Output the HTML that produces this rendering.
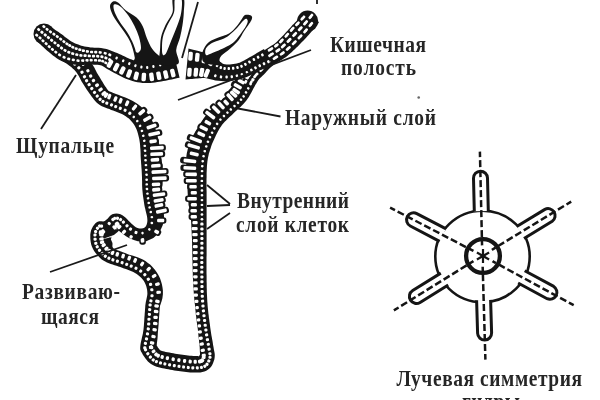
<!DOCTYPE html>
<html><head><meta charset="utf-8">
<style>
html,body{margin:0;padding:0;background:#fff;width:600px;height:400px;overflow:hidden}
svg{display:block;filter:blur(0.65px)}
text{font-family:"Liberation Serif",serif;font-weight:bold;fill:#262626}
</style></head><body>
<svg width="600" height="400" viewBox="0 0 600 400">
<path d="M319,22.4 L317.7,23.9 L316.4,25.5 L315.2,27.1 L313.9,28.6 L312.7,30.2 L311.4,31.7 L310.1,33.2 L308.8,34.8 L307.4,36.3 L306.1,37.8 L304.7,39.2 L303.3,40.7 L301.9,42.1 L300.5,43.6 L299.1,45 L297.7,46.4 L296.2,47.8 L294.8,49.2 L293.3,50.6 L291.9,52 L290.4,53.3 L288.9,54.6 L287.3,55.9 L285.7,57.2 L284,58.3 L282.3,59.4 L280.6,60.5 L278.9,61.5 L277.2,62.5 L275.5,63.6 L273.9,64.7 L272.3,65.9 L270.8,67.2 L269.4,68.6 L268,70 L266.6,71.4 L265.3,72.9 L263.9,74.4 L262.5,75.8 L261,77.2 L259.6,78.5 L258.4,80 L257.3,81.7 L256.3,83.4 L255.3,85.1 L254.3,86.9 L253.4,88.6 L252.4,90.4 L251.5,92.2 L250.5,93.9 L249.5,95.7 L248.5,97.4 L247.4,99.1 L246.2,100.8 L244.9,102.3 L243.6,103.8 L242.1,105.3 L240.7,106.7 L239.2,108 L237.7,109.4 L236.2,110.7 L234.8,112.1 L233.3,113.5 L231.9,114.9 L230.4,116.3 L229,117.6 L227.5,119 L226.1,120.4 L224.7,121.8 L223.4,123.3 L222.1,124.8 L221,126.4 L219.9,128.1 L218.9,129.8 L217.9,131.5 L217,133.3 L216.1,135.1 L215.2,136.9 L214.4,138.7 L213.6,140.5 L212.8,142.3 L212,144.1 L211.3,146 L210.7,147.9 L210.1,149.8 L209.5,151.7 L208.9,153.6 L208.5,155.5 L208,157.5 L207.7,159.4 L207.4,161.4 L207.2,163.4 L207,165.3 L206.9,167.3 L206.8,169.3 L206.7,171.3 L206.6,173.3 L206.6,175.3 L206.6,177.3 L206.5,179.3 L206.5,181.3 L206.5,183.3 L206.5,185.3 L206.5,187.3 L206.5,189.3 L206.6,191.3 L206.6,193.3 L206.6,195.3 L206.6,197.3 L206.6,199.3 L206.6,201.3 L206.6,203.3 L206.6,205.3 L206.6,207.4 L206.6,209.4 L206.6,211.4 L206.6,213.4 L206.6,215.4 L206.6,217.4 L206.6,219.4 L206.6,221.4 L206.6,223.4 L206.6,225.4 L206.6,227.4 L206.6,229.4 L206.6,231.4 L206.6,233.4 L206.6,235.4 L206.6,237.4 L206.6,239.4 L206.6,241.4 L206.6,243.4 L206.6,245.4 L206.6,247.4 L206.6,249.4 L206.6,251.4 L206.6,253.4 L206.6,255.4 L206.5,257.4 L206.5,259.4 L206.5,261.4 L206.5,263.5 L206.5,265.5 L206.5,267.5 L206.5,269.5 L206.5,271.5 L206.5,273.5 L206.6,275.5 L206.6,277.5 L206.6,279.5 L206.6,281.5 L206.7,283.5 L206.7,285.5 L206.7,287.5 L206.8,289.5 L206.8,291.5 L206.9,293.5 L207,295.5 L207.1,297.5 L207.2,299.5 L207.3,301.5 L207.5,303.5 L207.6,305.4 L207.8,307.4 L208,309.4 L208.2,311.4 L208.4,313.4 L208.7,315.4 L208.9,317.4 L209.2,319.4 L209.4,321.3 L209.7,323.3 L210,325.3 L210.2,327.3 L210.5,329.3 L210.8,331.3 L211.1,333.2 L211.4,335.2 L211.8,337.2 L212.1,339.1 L212.5,341.1 L212.8,343.1 L213.1,345.1 L213.5,347 L213.8,349 L214.2,351 L214.6,353 L214.8,355 L214.7,357.1 L214.4,359.2 L213.8,361.1 L213.1,363.1 L212.2,364.9 L211.1,366.7 L209.7,368.3 L208.1,369.6 L206.3,370.7 L204.4,371.5 L202.4,372 L200.4,372.4 L198.3,372.5 L196.3,372.6 L194.3,372.6 L192.3,372.5 L190.2,372.4 L188.2,372.2 L186.2,372 L184.2,371.8 L182.2,371.5 L180.3,371.3 L178.3,371 L176.3,370.7 L174.3,370.4 L172.3,370 L170.3,369.7 L168.4,369.3 L166.4,369 L164.4,368.6 L162.5,368.2 L160.5,367.8 L158.5,367.3 L156.6,366.7 L154.7,366 L152.8,365.1 L151,364.1 L149.4,362.8 L147.9,361.4 L146.5,359.8 L145.3,358.2 L144.1,356.6 L143,354.9 L142,353.1 L141,351.4 L140.2,349.3 L140.2,347.2 L140.4,345.2 L140.7,343.2 L141.1,341.2 L141.6,339.2 L142,337.3 L142.5,335.3 L142.9,333.4 L143.2,331.4 L143.5,329.5 L143.7,327.5 L143.9,325.5 L144,323.5 L144.2,321.5 L144.3,319.5 L144.4,317.5 L144.6,315.5 L144.7,313.5 L144.9,311.5 L145,309.5 L145.2,307.5 L145.3,305.5 L145.6,303.5 L145.9,301.5 L146.4,299.5 L146.8,297.6 L147.2,295.6 L147.4,293.7 L147.3,291.8 L147.1,289.8 L146.7,287.9 L146.2,286 L145.5,284.2 L144.7,282.4 L143.7,280.8 L142.5,279.2 L141.2,277.8 L139.8,276.4 L138.3,275.2 L136.7,274 L135,273 L133.3,272.1 L131.5,271.3 L129.7,270.5 L127.8,269.8 L125.9,269.1 L124,268.4 L122.2,267.7 L120.3,267.1 L118.4,266.4 L116.5,265.8 L114.6,265.2 L112.7,264.6 L110.8,264 L108.9,263.3 L107,262.5 L105.2,261.6 L103.4,260.5 L101.7,259.4 L100.1,258.1 L98.7,256.6 L97.3,255.1 L96,253.5 L94.8,251.9 L93.7,250.2 L92.8,248.4 L91.9,246.5 L91.2,244.5 L90.8,242.5 L90.5,240.5 L90.3,238.5 L90.3,236.4 L90.3,234.4 L90.6,232.4 L91.1,230.3 L91.9,228.4 L92.9,226.6 L94,224.9 L95.4,223.3 L97.1,222 L99.2,221.2 L101.4,221.3 L103.2,221.5 L104.8,221 L106.3,219.8 L107.8,218.4 L109,217 L110.4,215.4 L112.3,214.2 L114.3,213.7 L116.4,213.5 L118.5,213.7 L120.5,214.3 L122.4,215.2 L124.1,216.4 L125.7,217.7 L127.2,219.2 L128.5,220.7 L129.9,222.1 L131.3,223.4 L132.8,224.8 L134.2,226.1 L135.8,227.3 L137.5,228 L139.3,228.4 L141.2,228.5 L143.1,228.2 L144.7,227.5 L145.9,226.2 L146.7,224.5 L147.2,222.6 L147.4,220.7 L147.3,218.8 L147.1,216.9 L146.7,215 L146.2,213 L145.7,211.1 L145.3,209.1 L144.8,207.2 L144.4,205.2 L144.1,203.2 L143.8,201.2 L143.5,199.2 L143.2,197.2 L142.9,195.2 L142.7,193.2 L142.5,191.2 L142.3,189.2 L142.2,187.2 L142.1,185.2 L142.1,183.2 L142.1,181.2 L142,179.2 L142,177.2 L141.9,175.2 L141.8,173.2 L141.7,171.2 L141.6,169.2 L141.4,167.2 L141.3,165.2 L141.1,163.2 L141,161.2 L140.8,159.2 L140.7,157.2 L140.6,155.2 L140.6,153.2 L140.5,151.2 L140.4,149.2 L140.2,147.2 L140.1,145.2 L139.9,143.2 L139.6,141.3 L139.3,139.3 L138.9,137.4 L138.4,135.4 L137.9,133.5 L137.3,131.6 L136.7,129.8 L135.9,128 L135,126.2 L134,124.5 L132.9,122.9 L131.6,121.4 L130.3,120 L128.9,118.6 L127.3,117.4 L125.7,116.2 L124.1,115.2 L122.4,114.2 L120.6,113.4 L118.7,112.7 L116.9,112 L115,111.3 L113.1,110.6 L111.2,109.9 L109.4,109.1 L107.5,108.4 L105.7,107.7 L103.8,107 L101.9,106.2 L100.1,105.2 L98.4,104 L96.8,102.7 L95.4,101.2 L94.1,99.7 L92.8,98.1 L91.6,96.5 L90.4,94.8 L89.3,93.2 L88.1,91.5 L87,89.9 L85.9,88.2 L84.8,86.5 L83.7,84.8 L82.6,83.1 L81.6,81.4 L80.6,79.6 L79.7,77.8 L78.8,76 L77.8,74.4 L76.7,72.7 L75.5,71.2 L74.2,69.8 L72.7,68.4 L71.2,67.1 L69.7,65.9 L68.1,64.7 L66.4,63.6 L64.7,62.5 L63.1,61.5 L61.4,60.4 L59.7,59.3 L69.3,44.6 L70.8,45.5 L72.5,46.6 L74.3,47.8 L76.2,49 L78.1,50.3 L80.5,52 L82.4,53.5 L84.4,55.2 L86.5,57.2 L88.9,59.9 L90.8,62.2 L92.6,64.8 L94.3,67.6 L95.4,69.8 L96.3,71.5 L97,72.9 L97.7,74.1 L98.4,75.2 L99.4,76.8 L100.4,78.5 L101.4,80.2 L102.4,81.8 L103.4,83.5 L104.3,84.9 L105.3,86.4 L106.1,87.6 L107,89 L108,90.2 L108.4,90.8 L108.7,91 L109,91.2 L108.8,91.1 L109.7,91.5 L111.2,92.1 L113.4,92.9 L116,93.9 L117.5,94.5 L118.9,95.1 L120.5,95.7 L122.5,96.4 L124.7,97.2 L127.1,98.2 L129.8,99.4 L132.8,101 L135.3,102.5 L137.6,104 L139.9,105.7 L142.5,108 L144.6,110.1 L146.7,112.4 L148.6,114.8 L150.6,117.9 L152.1,120.6 L153.3,123.3 L154.4,125.9 L155.4,128.5 L156.2,131 L156.9,133.5 L157.5,135.8 L158.1,138.6 L158.7,141 L159.1,143.6 L159.5,145.8 L159.8,148.1 L160.2,150.2 L160.4,152.3 L160.7,154.3 L161,156.2 L161.3,157.9 L161.6,159.7 L161.9,161.7 L162.2,163.7 L162.4,165.7 L162.7,167.8 L163,169.9 L163.2,172 L163.5,174.2 L163.3,176.6 L163.1,178.8 L162.8,180.9 L162.6,182.8 L162.4,184.6 L162.2,186.4 L162,187.7 L161.9,189.4 L162,191.1 L162.1,192.9 L162.2,194.7 L162.3,196.5 L162.4,198.3 L162.6,200.2 L162.7,201.9 L162.7,203.2 L162.8,204.9 L163,206.8 L163.2,208.8 L163.5,211.1 L163.9,214.1 L164,217.3 L163.7,221.7 L162.6,225.6 L160.8,229.5 L157.8,234 L153.4,237.9 L146.2,241.2 L142,241.6 L137.8,241.2 L133.8,240.1 L129,238.1 L126,236.2 L123.7,234.4 L122.1,233.2 L120.4,231.9 L118.3,230.2 L116.7,228.7 L115.8,228.1 L115.6,228.3 L115.1,228.3 L114.6,228.4 L115.1,228.8 L116.6,229.3 L117.3,229.6 L118.4,229.6 L121.9,227.3 L121.9,227.4 L119,230.6 L117.6,231.9 L113.9,234.9 L103.9,238.4 L98.8,238.7 L101,239.4 L107,238.3 L108.8,237.7 L110.1,237.3 L110.6,237.4 L110.7,237.8 L111.2,237.3 L111.7,236 L111.8,235.9 L111.6,236.5 L111.4,237.2 L111.3,238.3 L111.2,238.6 L111,238.6 L111,239.1 L110.9,239.3 L111,239.8 L111.5,240.8 L111.8,241.5 L112.2,242.3 L112.5,243.5 L112.5,244.6 L112.4,245.5 L112.4,246.4 L112.8,247.4 L113.6,248.4 L114.5,248.9 L115.8,249.5 L117.4,250.2 L119.1,250.8 L121,251.5 L122.9,252.3 L125,253.1 L127.3,254 L129.2,254.7 L131.1,255.3 L133.1,255.8 L135.2,256.5 L137.5,257.3 L139.9,258.2 L142.8,259.6 L145.4,261.1 L147.9,262.9 L150.1,264.6 L152.5,266.9 L154.7,269.5 L156.5,271.9 L158.4,275 L160,278.3 L161.1,281.5 L161.9,284.3 L162.5,287.4 L162.9,290.5 L162.9,294.3 L162.4,298.3 L161.6,301.2 L161,303 L160.5,304.4 L160.1,305.6 L159.9,307 L159.7,308.8 L159.6,310.6 L159.4,312.5 L159.3,314.5 L159.1,316.5 L159,318.5 L158.9,320.5 L158.7,322.6 L158.6,324.6 L158.4,326.7 L158.2,329 L158,331.1 L157.8,333.7 L157.7,336 L157.5,338.5 L157.2,340.9 L156.9,343 L156.8,344.7 L156.8,346.1 L156.9,346.8 L156.7,348.9 L156.5,346.2 L155.6,343.6 L156.3,344.7 L157.1,346.1 L157.9,347.4 L158.7,348.4 L159.3,349.3 L159.9,349.9 L160.2,350.2 L160.1,350.2 L160.2,350.3 L160.7,350.5 L162,351 L163,351.3 L164.2,351.6 L165.7,351.9 L167.5,352.3 L169.4,352.6 L171.3,353 L173.3,353.3 L175.2,353.7 L177,354 L178.8,354.3 L180.7,354.6 L182.6,354.8 L184.4,355.1 L186.3,355.3 L188,355.5 L189.8,355.7 L191.5,355.8 L193.3,355.9 L194.5,356 L195.9,356 L197.3,356 L198.3,355.9 L199.1,355.8 L198.9,355.9 L199.1,355.8 L198.6,356 L197.8,357 L198,356.9 L198,357.2 L198.4,356.6 L198.7,356.3 L199.1,355.5 L199.3,355.8 L199.6,355.4 L199.9,355.1 L200,353.6 L199.9,351.9 L199.8,349.7 L199.7,347.2 L199.5,345.3 L199.3,343.5 L199.1,341.5 L198.9,339.5 L198.6,337.4 L198.4,335.2 L198.2,333.1 L198,331 L197.8,329 L197.5,327 L197.2,325 L196.9,323 L196.7,321 L196.4,318.9 L196.2,316.9 L195.9,314.9 L195.7,312.7 L195.5,310.7 L195.3,308.6 L195.1,306.5 L194.9,304.4 L194.6,302.3 L194.4,300.3 L194.2,298.1 L194,296.1 L193.9,294 L193.7,291.9 L193.6,289.8 L193.4,287.8 L193.3,285.7 L193.2,283.7 L193.1,281.7 L193,279.6 L192.9,277.6 L192.8,275.5 L192.8,273.5 L192.7,271.5 L192.7,269.5 L192.6,267.5 L192.6,265.5 L192.5,263.4 L192.5,261.4 L192.4,259.4 L192.4,257.4 L192.3,255.4 L192.3,253.4 L192.3,251.4 L192.2,249.4 L192.2,247.4 L192.1,245.4 L192.1,243.4 L192,241.4 L192,239.4 L191.9,237.4 L191.8,235.4 L191.7,233.4 L191.6,231.4 L191.5,229.4 L191.4,227.4 L191.3,225.4 L191.2,223.4 L191.1,221.4 L190.9,219.4 L190.6,217.4 L190.3,215.4 L190,213.4 L189.7,211.4 L189.4,209.4 L189.1,207.4 L188.8,205.3 L188.5,203.3 L188.2,201.3 L188,199.4 L187.9,197.4 L187.8,195.4 L187.7,193.4 L187.6,191.4 L187.5,189.4 L187.4,187.4 L187.3,185.4 L187.3,183.3 L187.2,181.3 L187.1,179.2 L187.1,177 L187,174.9 L186.8,172.8 L186.6,170.6 L186.4,168.4 L186.3,166.1 L186.2,163.8 L186.1,161.1 L186.2,158.6 L186.4,156.1 L186.8,153.3 L187.4,150.8 L188,148.1 L188.8,145.5 L189.5,143.3 L190.3,141 L191.3,138.8 L192.5,136.5 L193.7,134.4 L195,132.2 L196.2,130.2 L197.6,128.1 L198.7,126.4 L199.7,124.6 L200.9,122.5 L202.3,120.4 L203.9,117.9 L205.6,115.7 L207.4,113.4 L209.4,111.2 L211.3,109.2 L213.2,107.4 L215,105.9 L216.6,104.5 L218.2,103.2 L219.7,101.9 L221,100.8 L222.4,99.5 L224.3,97.8 L226,96.3 L227.4,94.9 L228.7,93.8 L229.7,92.8 L230.6,92 L231.6,90.8 L232.2,90 L232.7,89.4 L233.5,88.1 L234.3,86.9 L235.2,85.3 L236.1,83.7 L236.9,82.1 L237.9,80.3 L238.8,78.5 L239.9,76.6 L241,74.6 L242.4,72.2 L244,69.9 L246.5,66.7 L249.7,63.7 L250,63.4 L251.1,62.4 L252.4,61.1 L253.9,59.6 L255.6,57.9 L257.4,56.2 L259.3,54.4 L261.5,52.7 L263.9,50.8 L266.2,49.1 L268.3,47.8 L270.1,46.6 L271.7,45.6 L273.1,44.7 L274.2,43.9 L275.5,42.9 L276.3,42.2 L277.4,41.2 L278.5,40.1 L279.8,38.8 L281.1,37.5 L282.3,36.3 L283.6,34.9 L284.9,33.5 L286.2,32.1 L287.5,30.7 L288.7,29.3 L290,27.9 L291.3,26.4 L292.4,25.1 L293.7,23.9 L295,22.6 L296.1,21.4 L297.4,20 L298.7,18.6 L300,17.3 L301.3,15.8 L302.6,14.4 L303.9,12.8 L305.4,11.2Z" fill="#151515"/>
<circle cx="307.6" cy="21.2" r="10.6" fill="#151515"/>
<rect x="-3.3" y="-6.5" width="6.6" height="13" rx="2.8" fill="#151515" transform="translate(241.2,81.6) rotate(118.1)"/>
<rect x="-3.3" y="-7.3" width="6.6" height="14.5" rx="2.8" fill="#151515" transform="translate(237.8,86.3) rotate(119.3)"/>
<rect x="-3.3" y="-6.3" width="6.6" height="12.5" rx="2.8" fill="#151515" transform="translate(236.1,91.1) rotate(123.5)"/>
<rect x="-3.3" y="-6.4" width="6.6" height="12.7" rx="2.8" fill="#151515" transform="translate(233.6,94.1) rotate(132.5)"/>
<rect x="-3.3" y="-6.6" width="6.6" height="13.2" rx="2.8" fill="#151515" transform="translate(230.1,97.2) rotate(138.1)"/>
<rect x="-3.3" y="-5.2" width="6.6" height="10.4" rx="2.8" fill="#151515" transform="translate(226.2,102.6) rotate(135.6)"/>
<rect x="-3.3" y="-6.5" width="6.6" height="13" rx="2.8" fill="#151515" transform="translate(221.1,105.6) rotate(136.9)"/>
<rect x="-3.3" y="-7.1" width="6.6" height="14.2" rx="2.8" fill="#151515" transform="translate(216.1,109.6) rotate(135.1)"/>
<rect x="-3.3" y="-7.9" width="6.6" height="15.7" rx="2.8" fill="#151515" transform="translate(210.2,115) rotate(127.6)"/>
<rect x="-3.3" y="-5.6" width="6.6" height="11.1" rx="2.8" fill="#151515" transform="translate(207.8,122.7) rotate(120.2)"/>
<rect x="-3.3" y="-6.5" width="6.6" height="13" rx="2.8" fill="#151515" transform="translate(203.7,128.3) rotate(116.4)"/>
<rect x="-3.3" y="-6.1" width="6.6" height="12.3" rx="2.8" fill="#151515" transform="translate(201.3,134.3) rotate(114.4)"/>
<rect x="-3.3" y="-9.2" width="6.6" height="18.4" rx="2.8" fill="#151515" transform="translate(195.8,139.7) rotate(110.3)"/>
<rect x="-3.3" y="-9" width="6.6" height="18" rx="2.8" fill="#151515" transform="translate(193.7,146.4) rotate(106.6)"/>
<rect x="-3.3" y="-6.7" width="6.6" height="13.3" rx="2.8" fill="#151515" transform="translate(194.2,154) rotate(101.9)"/>
<rect x="-3.3" y="-9.9" width="6.6" height="19.7" rx="2.8" fill="#151515" transform="translate(189.9,160.9) rotate(96.2)"/>
<rect x="-3.3" y="-9.4" width="6.6" height="18.8" rx="2.8" fill="#151515" transform="translate(189.8,168) rotate(92.5)"/>
<rect x="-3.3" y="-7.9" width="6.6" height="15.8" rx="2.8" fill="#151515" transform="translate(191.1,174.3) rotate(91.5)"/>
<rect x="-3.3" y="-7.6" width="6.6" height="15.2" rx="2.8" fill="#151515" transform="translate(191.3,180.7) rotate(90.1)"/>
<rect x="-3.3" y="-5.8" width="6.6" height="11.7" rx="2.8" fill="#151515" transform="translate(193.1,186.7) rotate(89.8)"/>
<rect x="-3.3" y="-5.2" width="6.6" height="10.4" rx="2.8" fill="#151515" transform="translate(193.8,192.8) rotate(89.6)"/>
<rect x="-3.3" y="-6.9" width="6.6" height="13.9" rx="2.8" fill="#151515" transform="translate(192.1,198.7) rotate(89.9)"/>
<rect x="-3.3" y="-5.1" width="6.6" height="10.2" rx="2.8" fill="#151515" transform="translate(193.9,204.7) rotate(90)"/>
<rect x="-3.3" y="-5.3" width="6.6" height="10.6" rx="2.8" fill="#151515" transform="translate(193.7,210.7) rotate(90)"/>
<rect x="-3.3" y="-5.2" width="6.6" height="10.4" rx="2.8" fill="#151515" transform="translate(193.8,216.7) rotate(90)"/>
<rect x="-3.3" y="-4.4" width="6.6" height="8.7" rx="2.8" fill="#151515" transform="translate(142.5,240.4) rotate(-3.5)"/>
<rect x="-3.3" y="-4.6" width="6.6" height="9.1" rx="2.8" fill="#151515" transform="translate(156.7,231.8) rotate(-60.3)"/>
<rect x="-3.3" y="-5.7" width="6.6" height="11.4" rx="2.8" fill="#151515" transform="translate(160.7,220.5) rotate(-88.9)"/>
<rect x="-3.3" y="-7.6" width="6.6" height="15.2" rx="2.8" fill="#151515" transform="translate(161.4,211.1) rotate(-102.9)"/>
<rect x="-3.3" y="-6.5" width="6.6" height="13" rx="2.8" fill="#151515" transform="translate(158.9,205.4) rotate(-103.2)"/>
<rect x="-3.3" y="-7.1" width="6.6" height="14.3" rx="2.8" fill="#151515" transform="translate(158.6,200.4) rotate(-99.1)"/>
<rect x="-3.3" y="-8.4" width="6.6" height="16.8" rx="2.8" fill="#151515" transform="translate(159,194.6) rotate(-97.7)"/>
<rect x="-3.3" y="-6.1" width="6.6" height="12.3" rx="2.8" fill="#151515" transform="translate(156.1,189.6) rotate(-95)"/>
<rect x="-3.3" y="-6.3" width="6.6" height="12.6" rx="2.8" fill="#151515" transform="translate(156,184.4) rotate(-91.5)"/>
<rect x="-3.3" y="-9.8" width="6.6" height="19.5" rx="2.8" fill="#151515" transform="translate(159.4,178.3) rotate(-91.3)"/>
<rect x="-3.3" y="-9.6" width="6.6" height="19.2" rx="2.8" fill="#151515" transform="translate(159,171.8) rotate(-93.3)"/>
<rect x="-3.3" y="-6.8" width="6.6" height="13.7" rx="2.8" fill="#151515" transform="translate(155.8,165.8) rotate(-94.1)"/>
<rect x="-3.3" y="-6.4" width="6.6" height="12.8" rx="2.8" fill="#151515" transform="translate(154.9,159.8) rotate(-94.1)"/>
<rect x="-3.3" y="-8.5" width="6.6" height="17" rx="2.8" fill="#151515" transform="translate(156.7,154.1) rotate(-92.5)"/>
<rect x="-3.3" y="-9" width="6.6" height="18" rx="2.8" fill="#151515" transform="translate(156.9,147.9) rotate(-93.2)"/>
<rect x="-3.3" y="-5.8" width="6.6" height="11.6" rx="2.8" fill="#151515" transform="translate(153.1,141.3) rotate(-96.9)"/>
<rect x="-3.3" y="-8.2" width="6.6" height="16.4" rx="2.8" fill="#151515" transform="translate(154.2,133.7) rotate(-102.2)"/>
<rect x="-3.3" y="-7.6" width="6.6" height="15.2" rx="2.8" fill="#151515" transform="translate(151.6,126.5) rotate(-108.4)"/>
<rect x="-3.3" y="-6.6" width="6.6" height="13.2" rx="2.8" fill="#151515" transform="translate(147.2,118.8) rotate(-120)"/>
<rect x="-3.3" y="-6.1" width="6.6" height="12.2" rx="2.8" fill="#151515" transform="translate(141.7,112.2) rotate(-131.1)"/>
<rect x="-1.6" y="-3" width="3.2" height="6" rx="1.3" fill="#fff" transform="translate(246.2,76.9) rotate(120.8)"/>
<rect x="-1.8" y="-3.7" width="3.6" height="7.3" rx="1.3" fill="#fff" transform="translate(241.2,81.6) rotate(118.1)"/>
<rect x="-1.8" y="-4.3" width="3.6" height="8.7" rx="1.3" fill="#fff" transform="translate(237.8,86.3) rotate(119.3)"/>
<rect x="-1.8" y="-4.2" width="3.6" height="8.3" rx="1.3" fill="#fff" transform="translate(236.1,91.1) rotate(123.5)"/>
<rect x="-1.8" y="-4.3" width="3.6" height="8.5" rx="1.3" fill="#fff" transform="translate(233.6,94.1) rotate(132.5)"/>
<rect x="-1.8" y="-4.5" width="3.6" height="9" rx="1.3" fill="#fff" transform="translate(230.1,97.2) rotate(138.1)"/>
<rect x="-1.8" y="-3.1" width="3.6" height="6.2" rx="1.3" fill="#fff" transform="translate(226.2,102.6) rotate(135.6)"/>
<rect x="-1.8" y="-4.4" width="3.6" height="8.8" rx="1.3" fill="#fff" transform="translate(221.1,105.6) rotate(136.9)"/>
<rect x="-1.8" y="-5" width="3.6" height="10" rx="1.3" fill="#fff" transform="translate(216.1,109.6) rotate(135.1)"/>
<rect x="-1.8" y="-5.8" width="3.6" height="11.5" rx="1.3" fill="#fff" transform="translate(210.2,115) rotate(127.6)"/>
<rect x="-1.8" y="-3.5" width="3.6" height="6.9" rx="1.3" fill="#fff" transform="translate(207.8,122.7) rotate(120.2)"/>
<rect x="-1.8" y="-4.4" width="3.6" height="8.8" rx="1.3" fill="#fff" transform="translate(203.7,128.3) rotate(116.4)"/>
<rect x="-1.8" y="-4" width="3.6" height="8.1" rx="1.3" fill="#fff" transform="translate(201.3,134.3) rotate(114.4)"/>
<rect x="-1.8" y="-6.4" width="3.6" height="12.8" rx="1.3" fill="#fff" transform="translate(195.8,139.7) rotate(110.3)"/>
<rect x="-1.8" y="-6.4" width="3.6" height="12.8" rx="1.3" fill="#fff" transform="translate(193.7,146.4) rotate(106.6)"/>
<rect x="-1.8" y="-4.6" width="3.6" height="9.1" rx="1.3" fill="#fff" transform="translate(194.2,154) rotate(101.9)"/>
<rect x="-1.8" y="-6.4" width="3.6" height="12.8" rx="1.3" fill="#fff" transform="translate(189.9,160.9) rotate(96.2)"/>
<rect x="-1.8" y="-6.4" width="3.6" height="12.8" rx="1.3" fill="#fff" transform="translate(189.8,168) rotate(92.5)"/>
<rect x="-1.8" y="-5.8" width="3.6" height="11.6" rx="1.3" fill="#fff" transform="translate(191.1,174.3) rotate(91.5)"/>
<rect x="-1.8" y="-5.5" width="3.6" height="11" rx="1.3" fill="#fff" transform="translate(191.3,180.7) rotate(90.1)"/>
<rect x="-1.8" y="-3.7" width="3.6" height="7.5" rx="1.3" fill="#fff" transform="translate(193.1,186.7) rotate(89.8)"/>
<rect x="-1.8" y="-3.1" width="3.6" height="6.2" rx="1.3" fill="#fff" transform="translate(193.8,192.8) rotate(89.6)"/>
<rect x="-1.8" y="-4.8" width="3.6" height="9.7" rx="1.3" fill="#fff" transform="translate(192.1,198.7) rotate(89.9)"/>
<rect x="-1.8" y="-3" width="3.6" height="6" rx="1.3" fill="#fff" transform="translate(193.9,204.7) rotate(90)"/>
<rect x="-1.8" y="-3.2" width="3.6" height="6.4" rx="1.3" fill="#fff" transform="translate(193.7,210.7) rotate(90)"/>
<rect x="-1.8" y="-3.1" width="3.6" height="6.2" rx="1.3" fill="#fff" transform="translate(193.8,216.7) rotate(90)"/>
<rect x="-1.6" y="-2.6" width="3.2" height="5.3" rx="1.3" fill="#fff" transform="translate(195.1,222.7) rotate(90)"/>
<rect x="-1.6" y="-3.1" width="3.2" height="6.1" rx="1.3" fill="#fff" transform="translate(194.6,228.7) rotate(90)"/>
<rect x="-1.6" y="-2.7" width="3.2" height="5.5" rx="1.3" fill="#fff" transform="translate(195,234.7) rotate(90)"/>
<rect x="-1.6" y="-2.4" width="3.2" height="4.9" rx="1.3" fill="#fff" transform="translate(195.3,240.7) rotate(90.1)"/>
<rect x="-1.6" y="-2.4" width="3.2" height="4.8" rx="1.3" fill="#fff" transform="translate(195.3,246.6) rotate(90.2)"/>
<rect x="-1.6" y="-2.4" width="3.2" height="4.8" rx="1.3" fill="#fff" transform="translate(195.3,252.6) rotate(90.2)"/>
<rect x="-1.6" y="-2.4" width="3.2" height="4.8" rx="1.3" fill="#fff" transform="translate(195.3,258.7) rotate(90.2)"/>
<rect x="-1.6" y="-2.4" width="3.2" height="4.7" rx="1.3" fill="#fff" transform="translate(195.3,264.7) rotate(90.1)"/>
<rect x="-1.6" y="-2.3" width="3.2" height="4.7" rx="1.3" fill="#fff" transform="translate(195.3,270.7) rotate(89.8)"/>
<rect x="-1.6" y="-2.3" width="3.2" height="4.6" rx="1.3" fill="#fff" transform="translate(195.4,276.8) rotate(89.5)"/>
<rect x="-1.6" y="-2.3" width="3.2" height="4.6" rx="1.3" fill="#fff" transform="translate(195.4,282.9) rotate(89)"/>
<rect x="-1.6" y="-2.3" width="3.2" height="4.6" rx="1.3" fill="#fff" transform="translate(195.6,288.9) rotate(88.6)"/>
<rect x="-1.6" y="-2.2" width="3.2" height="4.5" rx="1.3" fill="#fff" transform="translate(195.8,295.1) rotate(87.7)"/>
<rect x="-1.6" y="-2.1" width="3.2" height="4.1" rx="1.3" fill="#fff" transform="translate(196.4,301.4) rotate(86.1)"/>
<rect x="-1.6" y="-1.8" width="3.2" height="3.6" rx="1.3" fill="#fff" transform="translate(197.1,307.6) rotate(84.7)"/>
<rect x="-1.6" y="-1.8" width="3.2" height="3.5" rx="1.3" fill="#fff" transform="translate(197.8,313.7) rotate(83.6)"/>
<rect x="-1.6" y="-1.8" width="3.2" height="3.6" rx="1.3" fill="#fff" transform="translate(198.5,319.9) rotate(82.7)"/>
<rect x="-1.6" y="-1.7" width="3.2" height="3.4" rx="1.3" fill="#fff" transform="translate(199.4,325.9) rotate(82.2)"/>
<rect x="-1.6" y="-2" width="3.2" height="4" rx="1.3" fill="#fff" transform="translate(199.9,331.9) rotate(82)"/>
<rect x="-1.6" y="-2" width="3.2" height="4.1" rx="1.3" fill="#fff" transform="translate(200.8,338.2) rotate(80.1)"/>
<rect x="-1.6" y="-2.2" width="3.2" height="4.4" rx="1.3" fill="#fff" transform="translate(201.7,344.1) rotate(80.2)"/>
<rect x="-1.6" y="-2.1" width="3.2" height="4.3" rx="1.3" fill="#fff" transform="translate(202.8,350.3) rotate(78.6)"/>
<rect x="-1.6" y="-2" width="3.2" height="4.1" rx="1.3" fill="#fff" transform="translate(203.8,355.3) rotate(83.7)"/>
<rect x="-1.6" y="-2" width="3.2" height="3.9" rx="1.3" fill="#fff" transform="translate(203.6,357.3) rotate(105.7)"/>
<rect x="-1.6" y="-2" width="3.2" height="3.9" rx="1.3" fill="#fff" transform="translate(202.3,360.2) rotate(121)"/>
<rect x="-1.6" y="-2" width="3.2" height="3.9" rx="1.3" fill="#fff" transform="translate(201.5,361) rotate(148)"/>
<rect x="-1.6" y="-2" width="3.2" height="3.9" rx="1.3" fill="#fff" transform="translate(199.6,361.5) rotate(171)"/>
<rect x="-1.6" y="-2" width="3.2" height="3.9" rx="1.3" fill="#fff" transform="translate(195.2,361.7) rotate(179.6)"/>
<rect x="-1.6" y="-2" width="3.2" height="3.9" rx="1.3" fill="#fff" transform="translate(190.2,361.5) rotate(-174.8)"/>
<rect x="-1.6" y="-2" width="3.2" height="3.9" rx="1.3" fill="#fff" transform="translate(184.6,360.9) rotate(-173)"/>
<rect x="-1.6" y="-2" width="3.2" height="3.9" rx="1.3" fill="#fff" transform="translate(178.9,360.1) rotate(-171.3)"/>
<rect x="-1.6" y="-2" width="3.2" height="3.9" rx="1.3" fill="#fff" transform="translate(173.2,359.2) rotate(-170.1)"/>
<rect x="-1.6" y="-2" width="3.2" height="3.9" rx="1.3" fill="#fff" transform="translate(167.4,358.1) rotate(-169.6)"/>
<rect x="-1.6" y="-2" width="3.2" height="3.9" rx="1.3" fill="#fff" transform="translate(162.2,357) rotate(-165.8)"/>
<rect x="-1.6" y="-2" width="3.2" height="3.9" rx="1.3" fill="#fff" transform="translate(158.2,355.7) rotate(-156.1)"/>
<rect x="-1.6" y="-2" width="3.2" height="3.9" rx="1.3" fill="#fff" transform="translate(156.1,354.3) rotate(-136.4)"/>
<rect x="-1.6" y="-2" width="3.2" height="3.9" rx="1.3" fill="#fff" transform="translate(153.6,351.3) rotate(-124.7)"/>
<rect x="-1.6" y="-2" width="3.2" height="3.9" rx="1.3" fill="#fff" transform="translate(150.9,346.9) rotate(-120.1)"/>
<rect x="-1.6" y="-2.2" width="3.2" height="4.3" rx="1.3" fill="#fff" transform="translate(151.2,347.6) rotate(-83.2)"/>
<rect x="-1.6" y="-2.2" width="3.2" height="4.4" rx="1.3" fill="#fff" transform="translate(152.1,342.9) rotate(-76.6)"/>
<rect x="-1.6" y="-2.2" width="3.2" height="4.4" rx="1.3" fill="#fff" transform="translate(153.5,336.6) rotate(-78.9)"/>
<rect x="-1.6" y="-2.2" width="3.2" height="4.4" rx="1.3" fill="#fff" transform="translate(154.6,329.7) rotate(-84.2)"/>
<rect x="-1.6" y="-2.2" width="3.2" height="4.5" rx="1.3" fill="#fff" transform="translate(155.2,323.5) rotate(-85.6)"/>
<rect x="-1.6" y="-2.3" width="3.2" height="4.5" rx="1.3" fill="#fff" transform="translate(155.6,317.4) rotate(-86.2)"/>
<rect x="-1.6" y="-2.3" width="3.2" height="4.6" rx="1.3" fill="#fff" transform="translate(156.1,311.5) rotate(-85.9)"/>
<rect x="-1.6" y="-2.3" width="3.2" height="4.6" rx="1.3" fill="#fff" transform="translate(156.6,306) rotate(-83.1)"/>
<rect x="-1.6" y="-2.3" width="3.2" height="4.6" rx="1.3" fill="#fff" transform="translate(157.4,301.4) rotate(-76.1)"/>
<rect x="-1.6" y="-2.3" width="3.2" height="4.6" rx="1.3" fill="#fff" transform="translate(158.6,292.3) rotate(-93.2)"/>
<rect x="-1.6" y="-2.4" width="3.2" height="4.8" rx="1.3" fill="#fff" transform="translate(157.4,284.2) rotate(-105.2)"/>
<rect x="-1.6" y="-2.4" width="3.2" height="4.9" rx="1.3" fill="#fff" transform="translate(154.1,276) rotate(-120.8)"/>
<rect x="-1.6" y="-2.4" width="3.2" height="4.9" rx="1.3" fill="#fff" transform="translate(148.6,269.1) rotate(-135.7)"/>
<rect x="-1.6" y="-2.4" width="3.2" height="4.9" rx="1.3" fill="#fff" transform="translate(142.1,264) rotate(-147.9)"/>
<rect x="-1.6" y="-2.4" width="3.2" height="4.9" rx="1.3" fill="#fff" transform="translate(135.1,260.5) rotate(-157.8)"/>
<rect x="-1.6" y="-2.4" width="3.2" height="4.9" rx="1.3" fill="#fff" transform="translate(129.2,258.2) rotate(-159.6)"/>
<rect x="-1.6" y="-2.4" width="3.2" height="4.8" rx="1.3" fill="#fff" transform="translate(123.1,256.1) rotate(-161.9)"/>
<rect x="-1.6" y="-2.3" width="3.2" height="4.6" rx="1.3" fill="#fff" transform="translate(117.3,254.3) rotate(-162.3)"/>
<rect x="-1.6" y="-2.2" width="3.2" height="4.5" rx="1.3" fill="#fff" transform="translate(112.5,252.8) rotate(-156.9)"/>
<rect x="-1.6" y="-2.2" width="3.2" height="4.4" rx="1.3" fill="#fff" transform="translate(109,251) rotate(-145.8)"/>
<rect x="-1.6" y="-2.2" width="3.2" height="4.4" rx="1.3" fill="#fff" transform="translate(106.4,248.6) rotate(-132.5)"/>
<rect x="-1.6" y="-2.2" width="3.2" height="4.4" rx="1.3" fill="#fff" transform="translate(103.7,245.2) rotate(-123.6)"/>
<rect x="-1.6" y="-2.2" width="3.2" height="4.4" rx="1.3" fill="#fff" transform="translate(102.1,242.2) rotate(-109.1)"/>
<rect x="-1.6" y="-2.2" width="3.2" height="4.4" rx="1.3" fill="#fff" transform="translate(101.5,238.9) rotate(-94.8)"/>
<rect x="-1.6" y="-2.2" width="3.2" height="4.4" rx="1.3" fill="#fff" transform="translate(101.4,234.8) rotate(-84.7)"/>
<rect x="-1.6" y="-2.2" width="3.2" height="4.4" rx="1.3" fill="#fff" transform="translate(102,233) rotate(-62)"/>
<rect x="-1.6" y="-2.2" width="3.2" height="4.4" rx="1.3" fill="#fff" transform="translate(103.2,231.3) rotate(-40.6)"/>
<rect x="-1.6" y="-2.2" width="3.2" height="4.4" rx="1.3" fill="#fff" transform="translate(100.4,232.4) rotate(8.2)"/>
<rect x="-1.6" y="-2.2" width="3.2" height="4.4" rx="1.3" fill="#fff" transform="translate(114.4,227.4) rotate(-43.4)"/>
<rect x="-1.6" y="-2.2" width="3.2" height="4.4" rx="1.3" fill="#fff" transform="translate(117.6,223.8) rotate(-37.4)"/>
<rect x="-1.6" y="-2.2" width="3.2" height="4.4" rx="1.3" fill="#fff" transform="translate(116.3,224.6) rotate(3.6)"/>
<rect x="-1.6" y="-2.5" width="3.2" height="4.9" rx="1.3" fill="#fff" transform="translate(116.9,225.2) rotate(32.1)"/>
<rect x="-1.6" y="-2.3" width="3.2" height="4.5" rx="1.3" fill="#fff" transform="translate(119.3,227.1) rotate(47.8)"/>
<rect x="-1.6" y="-2.3" width="3.2" height="4.6" rx="1.3" fill="#fff" transform="translate(124,231.9) rotate(43.8)"/>
<rect x="-1.6" y="-1.7" width="3.2" height="3.4" rx="1.3" fill="#fff" transform="translate(131.1,236.8) rotate(29.1)"/>
<rect x="-1.8" y="-2.3" width="3.6" height="4.5" rx="1.3" fill="#fff" transform="translate(142.5,240.4) rotate(-3.5)"/>
<rect x="-1.8" y="-2.5" width="3.6" height="4.9" rx="1.3" fill="#fff" transform="translate(156.7,231.8) rotate(-60.3)"/>
<rect x="-1.8" y="-3.6" width="3.6" height="7.2" rx="1.3" fill="#fff" transform="translate(160.7,220.5) rotate(-88.9)"/>
<rect x="-1.8" y="-5.5" width="3.6" height="11" rx="1.3" fill="#fff" transform="translate(161.4,211.1) rotate(-102.9)"/>
<rect x="-1.8" y="-4.4" width="3.6" height="8.8" rx="1.3" fill="#fff" transform="translate(158.9,205.4) rotate(-103.2)"/>
<rect x="-1.8" y="-5" width="3.6" height="10.1" rx="1.3" fill="#fff" transform="translate(158.6,200.4) rotate(-99.1)"/>
<rect x="-1.8" y="-6.3" width="3.6" height="12.6" rx="1.3" fill="#fff" transform="translate(159,194.6) rotate(-97.7)"/>
<rect x="-1.8" y="-4" width="3.6" height="8.1" rx="1.3" fill="#fff" transform="translate(156.1,189.6) rotate(-95)"/>
<rect x="-1.8" y="-4.2" width="3.6" height="8.4" rx="1.3" fill="#fff" transform="translate(156,184.4) rotate(-91.5)"/>
<rect x="-1.8" y="-7.3" width="3.6" height="14.6" rx="1.3" fill="#fff" transform="translate(159.4,178.3) rotate(-91.3)"/>
<rect x="-1.8" y="-7.5" width="3.6" height="15" rx="1.3" fill="#fff" transform="translate(159,171.8) rotate(-93.3)"/>
<rect x="-1.8" y="-4.7" width="3.6" height="9.5" rx="1.3" fill="#fff" transform="translate(155.8,165.8) rotate(-94.1)"/>
<rect x="-1.8" y="-4.3" width="3.6" height="8.6" rx="1.3" fill="#fff" transform="translate(154.9,159.8) rotate(-94.1)"/>
<rect x="-1.8" y="-6.4" width="3.6" height="12.8" rx="1.3" fill="#fff" transform="translate(156.7,154.1) rotate(-92.5)"/>
<rect x="-1.8" y="-6.9" width="3.6" height="13.8" rx="1.3" fill="#fff" transform="translate(156.9,147.9) rotate(-93.2)"/>
<rect x="-1.8" y="-3.7" width="3.6" height="7.4" rx="1.3" fill="#fff" transform="translate(153.1,141.3) rotate(-96.9)"/>
<rect x="-1.8" y="-6" width="3.6" height="11.9" rx="1.3" fill="#fff" transform="translate(154.2,133.7) rotate(-102.2)"/>
<rect x="-1.8" y="-5.2" width="3.6" height="10.3" rx="1.3" fill="#fff" transform="translate(151.6,126.5) rotate(-108.4)"/>
<rect x="-1.8" y="-4.3" width="3.6" height="8.7" rx="1.3" fill="#fff" transform="translate(147.2,118.8) rotate(-120)"/>
<rect x="-1.8" y="-3.8" width="3.6" height="7.6" rx="1.3" fill="#fff" transform="translate(141.7,112.2) rotate(-131.1)"/>
<rect x="-1.6" y="-3.3" width="3.2" height="6.6" rx="1.3" fill="#fff" transform="translate(134.5,107.5) rotate(-142.5)"/>
<rect x="-1.6" y="-3" width="3.2" height="6" rx="1.3" fill="#fff" transform="translate(127.1,103.3) rotate(-155.3)"/>
<rect x="-1.6" y="-2.9" width="3.2" height="5.8" rx="1.3" fill="#fff" transform="translate(120.6,100.8) rotate(-160.3)"/>
<rect x="-1.6" y="-2.8" width="3.2" height="5.6" rx="1.3" fill="#fff" transform="translate(115.4,99) rotate(-157.8)"/>
<rect x="-1.6" y="-2.8" width="3.2" height="5.6" rx="1.3" fill="#fff" transform="translate(109.3,96.6) rotate(-160.5)"/>
<rect x="-1.6" y="-2.8" width="3.2" height="5.6" rx="1.3" fill="#fff" transform="translate(106.1,95.2) rotate(-147.5)"/>
<rect x="-1.6" y="-2.7" width="3.2" height="5.3" rx="1.3" fill="#fff" transform="translate(103.9,93.4) rotate(-131.1)"/>
<rect x="-1.6" y="-2.3" width="3.2" height="4.7" rx="1.3" fill="#fff" transform="translate(100.5,89.6) rotate(-126.3)"/>
<rect x="-1.6" y="-2" width="3.2" height="4" rx="1.3" fill="#fff" transform="translate(97,85.2) rotate(-124.1)"/>
<rect x="-1.6" y="-1.7" width="3.2" height="3.3" rx="1.3" fill="#fff" transform="translate(93.5,80.5) rotate(-123.6)"/>
<rect x="-1.6" y="-1.6" width="3.2" height="3.2" rx="1.3" fill="#fff" transform="translate(90.7,76.1) rotate(-118.8)"/>
<rect x="-1.6" y="-1.6" width="3.2" height="3.2" rx="1.3" fill="#fff" transform="translate(87.9,70.8) rotate(-118.6)"/>
<rect x="-1.6" y="-1.6" width="3.2" height="3.2" rx="1.3" fill="#fff" transform="translate(83.2,64.1) rotate(-131.4)"/>
<rect x="-1.6" y="-1.6" width="3.2" height="3.2" rx="1.3" fill="#fff" transform="translate(77.7,58.9) rotate(-141)"/>
<rect x="-1.6" y="-1.6" width="3.2" height="3.2" rx="1.3" fill="#fff" transform="translate(72.1,54.8) rotate(-146.4)"/>
<rect x="-1.5" y="-1.6" width="3" height="3.2" rx="1.2" fill="#fff" transform="translate(252.9,79.7) rotate(120.8)"/>
<rect x="-1.2" y="-1.4" width="2.4" height="2.7" rx="1.2" fill="#fff" transform="translate(250.5,84.1) rotate(118.5)"/>
<rect x="-1.2" y="-1.4" width="2.4" height="2.7" rx="1.2" fill="#fff" transform="translate(248.2,88.3) rotate(118.4)"/>
<rect x="-1.2" y="-1.4" width="2.4" height="2.7" rx="1.2" fill="#fff" transform="translate(246,92.4) rotate(120)"/>
<rect x="-1.2" y="-1.4" width="2.4" height="2.7" rx="1.2" fill="#fff" transform="translate(243.6,96.3) rotate(123.5)"/>
<rect x="-1.2" y="-1.4" width="2.4" height="2.7" rx="1.2" fill="#fff" transform="translate(241,99.7) rotate(130.9)"/>
<rect x="-1.2" y="-1.4" width="2.4" height="2.7" rx="1.2" fill="#fff" transform="translate(238,102.8) rotate(137.1)"/>
<rect x="-1.2" y="-1.4" width="2.4" height="2.7" rx="1.2" fill="#fff" transform="translate(234.5,106) rotate(138.2)"/>
<rect x="-1.2" y="-1.4" width="2.4" height="2.7" rx="1.2" fill="#fff" transform="translate(230.8,109.4) rotate(135.3)"/>
<rect x="-1.2" y="-1.4" width="2.4" height="2.7" rx="1.2" fill="#fff" transform="translate(227.4,112.6) rotate(136.9)"/>
<rect x="-1.2" y="-1.4" width="2.4" height="2.7" rx="1.2" fill="#fff" transform="translate(223.9,116) rotate(135.8)"/>
<rect x="-1.2" y="-1.4" width="2.4" height="2.7" rx="1.2" fill="#fff" transform="translate(220.4,119.6) rotate(132.2)"/>
<rect x="-1.2" y="-1.4" width="2.4" height="2.7" rx="1.2" fill="#fff" transform="translate(217.1,123.8) rotate(124.9)"/>
<rect x="-1.2" y="-1.4" width="2.4" height="2.7" rx="1.2" fill="#fff" transform="translate(214.3,128.3) rotate(118.5)"/>
<rect x="-1.2" y="-1.4" width="2.4" height="2.7" rx="1.2" fill="#fff" transform="translate(212.1,132.7) rotate(116.4)"/>
<rect x="-1.2" y="-1.4" width="2.4" height="2.7" rx="1.2" fill="#fff" transform="translate(209.9,137.1) rotate(114.9)"/>
<rect x="-1.2" y="-1.4" width="2.4" height="2.7" rx="1.2" fill="#fff" transform="translate(207.9,141.7) rotate(111.9)"/>
<rect x="-1.2" y="-1.4" width="2.4" height="2.7" rx="1.2" fill="#fff" transform="translate(206.2,146.4) rotate(108.7)"/>
<rect x="-1.2" y="-1.4" width="2.4" height="2.7" rx="1.2" fill="#fff" transform="translate(204.7,151.2) rotate(106.1)"/>
<rect x="-1.2" y="-1.4" width="2.4" height="2.7" rx="1.2" fill="#fff" transform="translate(203.5,156.2) rotate(101.1)"/>
<rect x="-1.2" y="-1.4" width="2.4" height="2.7" rx="1.2" fill="#fff" transform="translate(202.7,161.2) rotate(96.8)"/>
<rect x="-1.2" y="-1.4" width="2.4" height="2.7" rx="1.2" fill="#fff" transform="translate(202.2,166.2) rotate(93.8)"/>
<rect x="-1.2" y="-1.4" width="2.4" height="2.7" rx="1.2" fill="#fff" transform="translate(202,171.1) rotate(92)"/>
<rect x="-1.2" y="-1.4" width="2.4" height="2.7" rx="1.2" fill="#fff" transform="translate(201.9,176) rotate(91.2)"/>
<rect x="-1.2" y="-1.4" width="2.4" height="2.7" rx="1.2" fill="#fff" transform="translate(201.8,180.9) rotate(90.1)"/>
<rect x="-1.2" y="-1.4" width="2.4" height="2.7" rx="1.2" fill="#fff" transform="translate(201.8,185.7) rotate(89.8)"/>
<rect x="-1.2" y="-1.4" width="2.4" height="2.7" rx="1.2" fill="#fff" transform="translate(201.9,190.5) rotate(89.7)"/>
<rect x="-1.2" y="-1.4" width="2.4" height="2.7" rx="1.2" fill="#fff" transform="translate(201.9,195.3) rotate(89.7)"/>
<rect x="-1.2" y="-1.4" width="2.4" height="2.7" rx="1.2" fill="#fff" transform="translate(201.9,200.1) rotate(90)"/>
<rect x="-1.2" y="-1.4" width="2.4" height="2.7" rx="1.2" fill="#fff" transform="translate(201.9,204.9) rotate(90)"/>
<rect x="-1.2" y="-1.4" width="2.4" height="2.7" rx="1.2" fill="#fff" transform="translate(201.9,209.7) rotate(90)"/>
<rect x="-1.2" y="-1.4" width="2.4" height="2.7" rx="1.2" fill="#fff" transform="translate(201.9,214.5) rotate(90)"/>
<rect x="-1.2" y="-1.4" width="2.4" height="2.7" rx="1.2" fill="#fff" transform="translate(201.9,219.3) rotate(90)"/>
<rect x="-1.5" y="-1.6" width="3" height="3.2" rx="1.2" fill="#fff" transform="translate(201.9,224.1) rotate(90)"/>
<rect x="-1.5" y="-1.6" width="3" height="3.2" rx="1.2" fill="#fff" transform="translate(201.9,228.9) rotate(90)"/>
<rect x="-1.5" y="-1.6" width="3" height="3.2" rx="1.2" fill="#fff" transform="translate(201.9,233.7) rotate(90)"/>
<rect x="-1.5" y="-1.6" width="3" height="3.2" rx="1.2" fill="#fff" transform="translate(201.9,238.5) rotate(90)"/>
<rect x="-1.5" y="-1.6" width="3" height="3.2" rx="1.2" fill="#fff" transform="translate(201.9,243.3) rotate(90.1)"/>
<rect x="-1.5" y="-1.6" width="3" height="3.2" rx="1.2" fill="#fff" transform="translate(201.9,248.1) rotate(90.2)"/>
<rect x="-1.5" y="-1.6" width="3" height="3.2" rx="1.2" fill="#fff" transform="translate(201.9,252.9) rotate(90.2)"/>
<rect x="-1.5" y="-1.6" width="3" height="3.2" rx="1.2" fill="#fff" transform="translate(201.8,257.7) rotate(90.2)"/>
<rect x="-1.5" y="-1.6" width="3" height="3.2" rx="1.2" fill="#fff" transform="translate(201.8,262.5) rotate(90.1)"/>
<rect x="-1.5" y="-1.6" width="3" height="3.2" rx="1.2" fill="#fff" transform="translate(201.8,267.3) rotate(90)"/>
<rect x="-1.5" y="-1.6" width="3" height="3.2" rx="1.2" fill="#fff" transform="translate(201.8,272.1) rotate(89.8)"/>
<rect x="-1.5" y="-1.6" width="3" height="3.2" rx="1.2" fill="#fff" transform="translate(201.9,276.9) rotate(89.5)"/>
<rect x="-1.5" y="-1.6" width="3" height="3.2" rx="1.2" fill="#fff" transform="translate(201.9,281.7) rotate(89.1)"/>
<rect x="-1.5" y="-1.6" width="3" height="3.2" rx="1.2" fill="#fff" transform="translate(202,286.6) rotate(88.8)"/>
<rect x="-1.5" y="-1.6" width="3" height="3.2" rx="1.2" fill="#fff" transform="translate(202.1,291.4) rotate(88.2)"/>
<rect x="-1.5" y="-1.6" width="3" height="3.2" rx="1.2" fill="#fff" transform="translate(202.3,296.3) rotate(87.4)"/>
<rect x="-1.5" y="-1.6" width="3" height="3.2" rx="1.2" fill="#fff" transform="translate(202.6,301.1) rotate(86.1)"/>
<rect x="-1.5" y="-1.6" width="3" height="3.2" rx="1.2" fill="#fff" transform="translate(203,306) rotate(85.2)"/>
<rect x="-1.5" y="-1.6" width="3" height="3.2" rx="1.2" fill="#fff" transform="translate(203.4,310.9) rotate(84)"/>
<rect x="-1.5" y="-1.6" width="3" height="3.2" rx="1.2" fill="#fff" transform="translate(204,315.7) rotate(83.1)"/>
<rect x="-1.5" y="-1.6" width="3" height="3.2" rx="1.2" fill="#fff" transform="translate(204.6,320.5) rotate(82.6)"/>
<rect x="-1.5" y="-1.6" width="3" height="3.2" rx="1.2" fill="#fff" transform="translate(205.2,325.3) rotate(82.2)"/>
<rect x="-1.5" y="-1.6" width="3" height="3.2" rx="1.2" fill="#fff" transform="translate(205.9,330) rotate(82.2)"/>
<rect x="-1.5" y="-1.6" width="3" height="3.2" rx="1.2" fill="#fff" transform="translate(206.6,334.9) rotate(80.7)"/>
<rect x="-1.5" y="-1.6" width="3" height="3.2" rx="1.2" fill="#fff" transform="translate(207.4,339.7) rotate(79.6)"/>
<rect x="-1.5" y="-1.6" width="3" height="3.2" rx="1.2" fill="#fff" transform="translate(208.3,344.3) rotate(81)"/>
<rect x="-1.5" y="-1.6" width="3" height="3.2" rx="1.2" fill="#fff" transform="translate(209.1,349.2) rotate(78.6)"/>
<rect x="-1.5" y="-1.6" width="3" height="3.2" rx="1.2" fill="#fff" transform="translate(209.9,353.7) rotate(81.9)"/>
<rect x="-1.5" y="-1.6" width="3" height="3.2" rx="1.2" fill="#fff" transform="translate(210,357.3) rotate(98.6)"/>
<rect x="-1.5" y="-1.6" width="3" height="3.2" rx="1.2" fill="#fff" transform="translate(208.8,361) rotate(111.8)"/>
<rect x="-1.5" y="-1.6" width="3" height="3.2" rx="1.2" fill="#fff" transform="translate(207,364.2) rotate(126.7)"/>
<rect x="-1.5" y="-1.6" width="3" height="3.2" rx="1.2" fill="#fff" transform="translate(204.8,366.2) rotate(151.1)"/>
<rect x="-1.5" y="-1.6" width="3" height="3.2" rx="1.2" fill="#fff" transform="translate(201.4,367.4) rotate(168.7)"/>
<rect x="-1.5" y="-1.6" width="3" height="3.2" rx="1.2" fill="#fff" transform="translate(197.3,367.9) rotate(177.6)"/>
<rect x="-1.5" y="-1.6" width="3" height="3.2" rx="1.2" fill="#fff" transform="translate(192.8,367.8) rotate(-177.7)"/>
<rect x="-1.5" y="-1.6" width="3" height="3.2" rx="1.2" fill="#fff" transform="translate(188.3,367.5) rotate(-174.8)"/>
<rect x="-1.5" y="-1.6" width="3" height="3.2" rx="1.2" fill="#fff" transform="translate(183.6,367) rotate(-173)"/>
<rect x="-1.5" y="-1.6" width="3" height="3.2" rx="1.2" fill="#fff" transform="translate(179,366.3) rotate(-171.6)"/>
<rect x="-1.5" y="-1.6" width="3" height="3.2" rx="1.2" fill="#fff" transform="translate(174.3,365.6) rotate(-170.5)"/>
<rect x="-1.5" y="-1.6" width="3" height="3.2" rx="1.2" fill="#fff" transform="translate(169.6,364.8) rotate(-169.6)"/>
<rect x="-1.5" y="-1.6" width="3" height="3.2" rx="1.2" fill="#fff" transform="translate(164.9,363.9) rotate(-169.2)"/>
<rect x="-1.5" y="-1.6" width="3" height="3.2" rx="1.2" fill="#fff" transform="translate(160.5,362.9) rotate(-165.8)"/>
<rect x="-1.5" y="-1.6" width="3" height="3.2" rx="1.2" fill="#fff" transform="translate(156.4,361.6) rotate(-158.6)"/>
<rect x="-1.5" y="-1.6" width="3" height="3.2" rx="1.2" fill="#fff" transform="translate(153.2,359.9) rotate(-142.8)"/>
<rect x="-1.5" y="-1.6" width="3" height="3.2" rx="1.2" fill="#fff" transform="translate(150.4,357.1) rotate(-131.5)"/>
<rect x="-1.5" y="-1.6" width="3" height="3.2" rx="1.2" fill="#fff" transform="translate(147.8,353.7) rotate(-123.5)"/>
<rect x="-1.5" y="-1.6" width="3" height="3.2" rx="1.2" fill="#fff" transform="translate(145.5,349.8) rotate(-119.5)"/>
<rect x="-1.5" y="-1.6" width="3" height="3.2" rx="1.2" fill="#fff" transform="translate(144.8,347.8) rotate(-84.1)"/>
<rect x="-1.5" y="-1.6" width="3" height="3.2" rx="1.2" fill="#fff" transform="translate(145.4,343.4) rotate(-78.2)"/>
<rect x="-1.5" y="-1.6" width="3" height="3.2" rx="1.2" fill="#fff" transform="translate(146.5,338.9) rotate(-76.3)"/>
<rect x="-1.5" y="-1.6" width="3" height="3.2" rx="1.2" fill="#fff" transform="translate(147.5,333.9) rotate(-79.9)"/>
<rect x="-1.5" y="-1.6" width="3" height="3.2" rx="1.2" fill="#fff" transform="translate(148.3,328.9) rotate(-84.2)"/>
<rect x="-1.5" y="-1.6" width="3" height="3.2" rx="1.2" fill="#fff" transform="translate(148.7,324) rotate(-85.6)"/>
<rect x="-1.5" y="-1.6" width="3" height="3.2" rx="1.2" fill="#fff" transform="translate(149,319.2) rotate(-86.1)"/>
<rect x="-1.5" y="-1.6" width="3" height="3.2" rx="1.2" fill="#fff" transform="translate(149.4,314.4) rotate(-86.2)"/>
<rect x="-1.5" y="-1.6" width="3" height="3.2" rx="1.2" fill="#fff" transform="translate(149.7,309.6) rotate(-85.7)"/>
<rect x="-1.5" y="-1.6" width="3" height="3.2" rx="1.2" fill="#fff" transform="translate(150.1,305) rotate(-83.1)"/>
<rect x="-1.5" y="-1.6" width="3" height="3.2" rx="1.2" fill="#fff" transform="translate(150.9,300.8) rotate(-76.7)"/>
<rect x="-1.5" y="-1.6" width="3" height="3.2" rx="1.2" fill="#fff" transform="translate(152,295.7) rotate(-82.4)"/>
<rect x="-1.5" y="-1.6" width="3" height="3.2" rx="1.2" fill="#fff" transform="translate(151.8,289.8) rotate(-97.5)"/>
<rect x="-1.5" y="-1.6" width="3" height="3.2" rx="1.2" fill="#fff" transform="translate(150.6,284.4) rotate(-108.6)"/>
<rect x="-1.5" y="-1.6" width="3" height="3.2" rx="1.2" fill="#fff" transform="translate(148.3,279.2) rotate(-120.8)"/>
<rect x="-1.5" y="-1.6" width="3" height="3.2" rx="1.2" fill="#fff" transform="translate(144.8,274.7) rotate(-134)"/>
<rect x="-1.5" y="-1.6" width="3" height="3.2" rx="1.2" fill="#fff" transform="translate(140.7,271.1) rotate(-143.4)"/>
<rect x="-1.5" y="-1.6" width="3" height="3.2" rx="1.2" fill="#fff" transform="translate(136,268.2) rotate(-153.3)"/>
<rect x="-1.5" y="-1.6" width="3" height="3.2" rx="1.2" fill="#fff" transform="translate(131.2,266.1) rotate(-158.4)"/>
<rect x="-1.5" y="-1.6" width="3" height="3.2" rx="1.2" fill="#fff" transform="translate(126.7,264.4) rotate(-159.6)"/>
<rect x="-1.5" y="-1.6" width="3" height="3.2" rx="1.2" fill="#fff" transform="translate(122.1,262.7) rotate(-161.3)"/>
<rect x="-1.5" y="-1.6" width="3" height="3.2" rx="1.2" fill="#fff" transform="translate(117.4,261.2) rotate(-162.6)"/>
<rect x="-1.5" y="-1.6" width="3" height="3.2" rx="1.2" fill="#fff" transform="translate(112.9,259.8) rotate(-161.4)"/>
<rect x="-1.5" y="-1.6" width="3" height="3.2" rx="1.2" fill="#fff" transform="translate(108.9,258.2) rotate(-154.9)"/>
<rect x="-1.5" y="-1.6" width="3" height="3.2" rx="1.2" fill="#fff" transform="translate(105.3,256.2) rotate(-145.8)"/>
<rect x="-1.5" y="-1.6" width="3" height="3.2" rx="1.2" fill="#fff" transform="translate(102.3,253.6) rotate(-133.5)"/>
<rect x="-1.5" y="-1.6" width="3" height="3.2" rx="1.2" fill="#fff" transform="translate(99.5,250.3) rotate(-127.2)"/>
<rect x="-1.5" y="-1.6" width="3" height="3.2" rx="1.2" fill="#fff" transform="translate(97.2,246.8) rotate(-118)"/>
<rect x="-1.5" y="-1.6" width="3" height="3.2" rx="1.2" fill="#fff" transform="translate(95.8,243.3) rotate(-104.6)"/>
<rect x="-1.5" y="-1.6" width="3" height="3.2" rx="1.2" fill="#fff" transform="translate(95.1,239.2) rotate(-94.8)"/>
<rect x="-1.5" y="-1.6" width="3" height="3.2" rx="1.2" fill="#fff" transform="translate(95,235) rotate(-87.4)"/>
<rect x="-1.5" y="-1.6" width="3" height="3.2" rx="1.2" fill="#fff" transform="translate(95.6,231.6) rotate(-68.8)"/>
<rect x="-1.5" y="-1.6" width="3" height="3.2" rx="1.2" fill="#fff" transform="translate(97.5,228.2) rotate(-56)"/>
<rect x="-1.5" y="-1.6" width="3" height="3.2" rx="1.2" fill="#fff" transform="translate(99.6,226) rotate(-31.3)"/>
<rect x="-1.5" y="-1.6" width="3" height="3.2" rx="1.2" fill="#fff" transform="translate(101.6,226.1) rotate(7)"/>
<rect x="-1.5" y="-1.6" width="3" height="3.2" rx="1.2" fill="#fff" transform="translate(109.2,223.5) rotate(-42.2)"/>
<rect x="-1.5" y="-1.6" width="3" height="3.2" rx="1.2" fill="#fff" transform="translate(112.9,219.6) rotate(-50.7)"/>
<rect x="-1.5" y="-1.6" width="3" height="3.2" rx="1.2" fill="#fff" transform="translate(114.7,218.4) rotate(-14.9)"/>
<rect x="-1.5" y="-1.6" width="3" height="3.2" rx="1.2" fill="#fff" transform="translate(117.5,218.3) rotate(12.9)"/>
<rect x="-1.5" y="-1.6" width="3" height="3.2" rx="1.2" fill="#fff" transform="translate(120.6,219.6) rotate(32.1)"/>
<rect x="-1.5" y="-1.6" width="3" height="3.2" rx="1.2" fill="#fff" transform="translate(123.4,222.1) rotate(47.1)"/>
<rect x="-1.5" y="-1.6" width="3" height="3.2" rx="1.2" fill="#fff" transform="translate(127,225.8) rotate(42.4)"/>
<rect x="-1.5" y="-1.6" width="3" height="3.2" rx="1.2" fill="#fff" transform="translate(130.5,229.1) rotate(42)"/>
<rect x="-1.5" y="-1.6" width="3" height="3.2" rx="1.2" fill="#fff" transform="translate(136,232.5) rotate(17)"/>
<rect x="-1.2" y="-1.4" width="2.4" height="2.7" rx="1.2" fill="#fff" transform="translate(142.5,233.1) rotate(-6.5)"/>
<rect x="-1.2" y="-1.4" width="2.4" height="2.7" rx="1.2" fill="#fff" transform="translate(149.4,229.4) rotate(-52.6)"/>
<rect x="-1.2" y="-1.4" width="2.4" height="2.7" rx="1.2" fill="#fff" transform="translate(151.9,223) rotate(-81.7)"/>
<rect x="-1.2" y="-1.4" width="2.4" height="2.7" rx="1.2" fill="#fff" transform="translate(151.9,217.1) rotate(-97.5)"/>
<rect x="-1.2" y="-1.4" width="2.4" height="2.7" rx="1.2" fill="#fff" transform="translate(150.8,212) rotate(-103.5)"/>
<rect x="-1.2" y="-1.4" width="2.4" height="2.7" rx="1.2" fill="#fff" transform="translate(149.7,207.4) rotate(-103.2)"/>
<rect x="-1.2" y="-1.4" width="2.4" height="2.7" rx="1.2" fill="#fff" transform="translate(148.8,202.9) rotate(-99.3)"/>
<rect x="-1.2" y="-1.4" width="2.4" height="2.7" rx="1.2" fill="#fff" transform="translate(148.1,198.3) rotate(-98.2)"/>
<rect x="-1.2" y="-1.4" width="2.4" height="2.7" rx="1.2" fill="#fff" transform="translate(147.5,193.6) rotate(-96.7)"/>
<rect x="-1.2" y="-1.4" width="2.4" height="2.7" rx="1.2" fill="#fff" transform="translate(147,189) rotate(-94.4)"/>
<rect x="-1.2" y="-1.4" width="2.4" height="2.7" rx="1.2" fill="#fff" transform="translate(146.8,184.4) rotate(-91.5)"/>
<rect x="-1.2" y="-1.4" width="2.4" height="2.7" rx="1.2" fill="#fff" transform="translate(146.7,179.7) rotate(-90.9)"/>
<rect x="-1.2" y="-1.4" width="2.4" height="2.7" rx="1.2" fill="#fff" transform="translate(146.6,174.7) rotate(-93)"/>
<rect x="-1.2" y="-1.4" width="2.4" height="2.7" rx="1.2" fill="#fff" transform="translate(146.3,169.9) rotate(-93.7)"/>
<rect x="-1.2" y="-1.4" width="2.4" height="2.7" rx="1.2" fill="#fff" transform="translate(146,165.1) rotate(-94.1)"/>
<rect x="-1.2" y="-1.4" width="2.4" height="2.7" rx="1.2" fill="#fff" transform="translate(145.6,160.3) rotate(-94.1)"/>
<rect x="-1.2" y="-1.4" width="2.4" height="2.7" rx="1.2" fill="#fff" transform="translate(145.4,155.6) rotate(-92.6)"/>
<rect x="-1.2" y="-1.4" width="2.4" height="2.7" rx="1.2" fill="#fff" transform="translate(145.1,150.8) rotate(-92.9)"/>
<rect x="-1.2" y="-1.4" width="2.4" height="2.7" rx="1.2" fill="#fff" transform="translate(144.8,145.9) rotate(-94.2)"/>
<rect x="-1.2" y="-1.4" width="2.4" height="2.7" rx="1.2" fill="#fff" transform="translate(144.3,140.8) rotate(-98.1)"/>
<rect x="-1.2" y="-1.4" width="2.4" height="2.7" rx="1.2" fill="#fff" transform="translate(143.3,135.8) rotate(-103)"/>
<rect x="-1.2" y="-1.4" width="2.4" height="2.7" rx="1.2" fill="#fff" transform="translate(142,130.9) rotate(-107.2)"/>
<rect x="-1.2" y="-1.4" width="2.4" height="2.7" rx="1.2" fill="#fff" transform="translate(140.1,125.9) rotate(-114.5)"/>
<rect x="-1.2" y="-1.4" width="2.4" height="2.7" rx="1.2" fill="#fff" transform="translate(137.3,121) rotate(-125.6)"/>
<rect x="-1.2" y="-1.4" width="2.4" height="2.7" rx="1.2" fill="#fff" transform="translate(133.8,116.9) rotate(-134.6)"/>
<rect x="-1.5" y="-1.6" width="3" height="3.2" rx="1.2" fill="#fff" transform="translate(129.8,113.3) rotate(-142.5)"/>
<rect x="-1.5" y="-1.6" width="3" height="3.2" rx="1.2" fill="#fff" transform="translate(125.1,110.3) rotate(-153.4)"/>
<rect x="-1.5" y="-1.6" width="3" height="3.2" rx="1.2" fill="#fff" transform="translate(120.3,108.3) rotate(-159.1)"/>
<rect x="-1.5" y="-1.6" width="3" height="3.2" rx="1.2" fill="#fff" transform="translate(115.7,106.6) rotate(-160.2)"/>
<rect x="-1.5" y="-1.6" width="3" height="3.2" rx="1.2" fill="#fff" transform="translate(111.5,104.9) rotate(-156.5)"/>
<rect x="-1.5" y="-1.6" width="3" height="3.2" rx="1.2" fill="#fff" transform="translate(106.8,103.1) rotate(-160.5)"/>
<rect x="-1.5" y="-1.6" width="3" height="3.2" rx="1.2" fill="#fff" transform="translate(103,101.5) rotate(-150.4)"/>
<rect x="-1.5" y="-1.6" width="3" height="3.2" rx="1.2" fill="#fff" transform="translate(100.1,99.3) rotate(-135.5)"/>
<rect x="-1.5" y="-1.6" width="3" height="3.2" rx="1.2" fill="#fff" transform="translate(97.2,96.1) rotate(-128.2)"/>
<rect x="-1.5" y="-1.6" width="3" height="3.2" rx="1.2" fill="#fff" transform="translate(94.5,92.4) rotate(-125.5)"/>
<rect x="-1.5" y="-1.6" width="3" height="3.2" rx="1.2" fill="#fff" transform="translate(91.8,88.5) rotate(-124.1)"/>
<rect x="-1.5" y="-1.6" width="3" height="3.2" rx="1.2" fill="#fff" transform="translate(89.1,84.6) rotate(-123.6)"/>
<rect x="-1.5" y="-1.6" width="3" height="3.2" rx="1.2" fill="#fff" transform="translate(86.6,80.7) rotate(-120.8)"/>
<rect x="-1.5" y="-1.6" width="3" height="3.2" rx="1.2" fill="#fff" transform="translate(84.5,76.7) rotate(-117.2)"/>
<rect x="-1.5" y="-1.6" width="3" height="3.2" rx="1.2" fill="#fff" transform="translate(82,72.2) rotate(-121.1)"/>
<rect x="-1.5" y="-1.6" width="3" height="3.2" rx="1.2" fill="#fff" transform="translate(78.8,67.8) rotate(-131.4)"/>
<rect x="-1.5" y="-1.6" width="3" height="3.2" rx="1.2" fill="#fff" transform="translate(74.8,64.1) rotate(-140.1)"/>
<rect x="-1.5" y="-1.6" width="3" height="3.2" rx="1.2" fill="#fff" transform="translate(70.8,60.9) rotate(-145.2)"/>
<rect x="-1.5" y="-1.6" width="3" height="3.2" rx="1.2" fill="#fff" transform="translate(66.6,58.2) rotate(-147.4)"/>
<rect x="-1.9" y="-1.4" width="3.8" height="2.7" rx="1" fill="#fff" transform="translate(311.5,15.5) rotate(129.2)"/>
<rect x="-1.9" y="-1.4" width="3.8" height="2.7" rx="1" fill="#fff" transform="translate(310.2,17.2) rotate(129.1)"/>
<rect x="-1.9" y="-1.3" width="3.8" height="2.6" rx="1" fill="#fff" transform="translate(311.5,23.7) rotate(128.8)"/>
<rect x="-1.9" y="-1.4" width="3.8" height="2.7" rx="1" fill="#fff" transform="translate(306.2,22) rotate(129.1)"/>
<rect x="-1.9" y="-1.3" width="3.8" height="2.6" rx="1" fill="#fff" transform="translate(303.6,17.3) rotate(128.8)"/>
<rect x="-1.9" y="-1.3" width="3.8" height="2.6" rx="1" fill="#fff" transform="translate(310.2,25.3) rotate(129.1)"/>
<rect x="-1.9" y="-1.4" width="3.8" height="2.7" rx="1" fill="#fff" transform="translate(304.8,23.6) rotate(129.3)"/>
<rect x="-1.9" y="-1.3" width="3.8" height="2.6" rx="1" fill="#fff" transform="translate(302.1,18.8) rotate(129.1)"/>
<rect x="-1.9" y="-1.3" width="3.8" height="2.6" rx="1" fill="#fff" transform="translate(306.2,30.1) rotate(130.3)"/>
<rect x="-1.9" y="-1.4" width="3.8" height="2.7" rx="1" fill="#fff" transform="translate(300.9,28) rotate(131.4)"/>
<rect x="-1.9" y="-1.3" width="3.8" height="2.6" rx="1" fill="#fff" transform="translate(298.1,23.2) rotate(130.3)"/>
<rect x="-1.9" y="-1.3" width="3.8" height="2.6" rx="1" fill="#fff" transform="translate(304.9,31.6) rotate(131.4)"/>
<rect x="-1.9" y="-1.4" width="3.8" height="2.7" rx="1" fill="#fff" transform="translate(299.5,29.4) rotate(132)"/>
<rect x="-1.9" y="-1.3" width="3.8" height="2.6" rx="1" fill="#fff" transform="translate(296.8,24.5) rotate(131.4)"/>
<rect x="-1.9" y="-1.3" width="3.8" height="2.6" rx="1" fill="#fff" transform="translate(300.8,36.1) rotate(133.6)"/>
<rect x="-1.9" y="-1.4" width="3.8" height="2.7" rx="1" fill="#fff" transform="translate(295.3,33.7) rotate(133.8)"/>
<rect x="-1.9" y="-1.3" width="3.8" height="2.6" rx="1" fill="#fff" transform="translate(292.8,28.5) rotate(133.6)"/>
<rect x="-1.9" y="-1.3" width="3.8" height="2.6" rx="1" fill="#fff" transform="translate(299.3,37.6) rotate(133.8)"/>
<rect x="-1.9" y="-1.4" width="3.8" height="2.7" rx="1" fill="#fff" transform="translate(293.9,35.2) rotate(134.4)"/>
<rect x="-1.9" y="-1.3" width="3.8" height="2.6" rx="1" fill="#fff" transform="translate(291.5,30.1) rotate(133.8)"/>
<rect x="-1.9" y="-1.3" width="3.8" height="2.6" rx="1" fill="#fff" transform="translate(295,42) rotate(135)"/>
<rect x="-1.9" y="-1.4" width="3.8" height="2.7" rx="1" fill="#fff" transform="translate(289.7,39.6) rotate(135.7)"/>
<rect x="-1.9" y="-1.3" width="3.8" height="2.6" rx="1" fill="#fff" transform="translate(287.4,34.5) rotate(135)"/>
<rect x="-1.9" y="-1.3" width="3.8" height="2.6" rx="1" fill="#fff" transform="translate(293.5,43.5) rotate(135.7)"/>
<rect x="-1.9" y="-1.4" width="3.8" height="2.7" rx="1" fill="#fff" transform="translate(288.3,41.1) rotate(136.1)"/>
<rect x="-1.9" y="-1.3" width="3.8" height="2.6" rx="1" fill="#fff" transform="translate(286.2,36) rotate(135.7)"/>
<rect x="-1.9" y="-1.3" width="3.8" height="2.6" rx="1" fill="#fff" transform="translate(289,47.8) rotate(137)"/>
<rect x="-1.9" y="-1.4" width="3.8" height="2.7" rx="1" fill="#fff" transform="translate(284,45.2) rotate(138.1)"/>
<rect x="-1.9" y="-1.3" width="3.8" height="2.6" rx="1" fill="#fff" transform="translate(282,40.2) rotate(137)"/>
<rect x="-1.9" y="-1.3" width="3.8" height="2.6" rx="1" fill="#fff" transform="translate(287.5,49.1) rotate(138.1)"/>
<rect x="-1.9" y="-1.4" width="3.8" height="2.7" rx="1" fill="#fff" transform="translate(282.6,46.6) rotate(138.9)"/>
<rect x="-1.9" y="-1.3" width="3.8" height="2.6" rx="1" fill="#fff" transform="translate(280.8,41.6) rotate(138.1)"/>
<rect x="-1.9" y="-1.3" width="3.8" height="2.6" rx="1" fill="#fff" transform="translate(283,52.9) rotate(142.8)"/>
<rect x="-1.9" y="-1.4" width="3.8" height="2.7" rx="1" fill="#fff" transform="translate(278.6,49.8) rotate(145.7)"/>
<rect x="-1.9" y="-1.3" width="3.8" height="2.6" rx="1" fill="#fff" transform="translate(276.9,45) rotate(142.8)"/>
<rect x="-1.9" y="-1.3" width="3.8" height="2.6" rx="1" fill="#fff" transform="translate(281.5,54) rotate(145.7)"/>
<rect x="-1.9" y="-1.4" width="3.8" height="2.7" rx="1" fill="#fff" transform="translate(277.2,50.8) rotate(147.9)"/>
<rect x="-1.9" y="-1.3" width="3.8" height="2.6" rx="1" fill="#fff" transform="translate(275.9,45.9) rotate(145.7)"/>
<rect x="-1.9" y="-1.3" width="3.8" height="2.6" rx="1" fill="#fff" transform="translate(276.4,57.2) rotate(149.4)"/>
<rect x="-1.9" y="-1.4" width="3.8" height="2.7" rx="1" fill="#fff" transform="translate(272,54) rotate(149)"/>
<rect x="-1.9" y="-1.3" width="3.8" height="2.6" rx="1" fill="#fff" transform="translate(271.4,48.8) rotate(149.4)"/>
<rect x="-1.9" y="-1.3" width="3.8" height="2.6" rx="1" fill="#fff" transform="translate(274.5,58.3) rotate(149)"/>
<rect x="-1.9" y="-1.4" width="3.8" height="2.7" rx="1" fill="#fff" transform="translate(270,55.3) rotate(147.3)"/>
<rect x="-1.9" y="-1.3" width="3.8" height="2.6" rx="1" fill="#fff" transform="translate(269.6,50) rotate(149)"/>
<rect x="-1.9" y="-1.3" width="3.8" height="2.6" rx="1" fill="#fff" transform="translate(268.8,62.4) rotate(139.3)"/>
<rect x="-1.9" y="-1.4" width="3.8" height="2.7" rx="1" fill="#fff" transform="translate(263.8,60.3) rotate(137)"/>
<rect x="-1.9" y="-1.3" width="3.8" height="2.6" rx="1" fill="#fff" transform="translate(262.6,55.1) rotate(139.3)"/>
<rect x="-1.9" y="-1.3" width="3.8" height="2.6" rx="1" fill="#fff" transform="translate(267.1,63.9) rotate(137)"/>
<rect x="-1.9" y="-1.4" width="3.8" height="2.7" rx="1" fill="#fff" transform="translate(262,62) rotate(135.1)"/>
<rect x="-1.9" y="-1.3" width="3.8" height="2.6" rx="1" fill="#fff" transform="translate(260.5,56.9) rotate(137)"/>
<rect x="-1.9" y="-1.3" width="3.8" height="2.6" rx="1" fill="#fff" transform="translate(262.4,68.6) rotate(132.5)"/>
<rect x="-1.9" y="-1.4" width="3.8" height="2.7" rx="1" fill="#fff" transform="translate(257.3,66.8) rotate(132.5)"/>
<rect x="-1.9" y="-1.3" width="3.8" height="2.6" rx="1" fill="#fff" transform="translate(255.2,62) rotate(132.5)"/>
<rect x="-1.9" y="-1.3" width="3.8" height="2.6" rx="1" fill="#fff" transform="translate(261,70.2) rotate(132.5)"/>
<rect x="-1.9" y="-1.4" width="3.8" height="2.7" rx="1" fill="#fff" transform="translate(256,68.1) rotate(133.7)"/>
<rect x="-1.9" y="-1.3" width="3.8" height="2.6" rx="1" fill="#fff" transform="translate(253.7,63.5) rotate(132.5)"/>
<rect x="-1.9" y="-1.3" width="3.8" height="2.6" rx="1" fill="#fff" transform="translate(256.7,74.3) rotate(136.6)"/>
<rect x="-1.9" y="-1.4" width="3.8" height="2.7" rx="1" fill="#fff" transform="translate(250.8,73.2) rotate(127.9)"/>
<rect x="-1.9" y="-1.3" width="3.8" height="2.6" rx="1" fill="#fff" transform="translate(249.8,67) rotate(136.6)"/>
<rect x="-1.9" y="-1.3" width="3.8" height="2.6" rx="1" fill="#fff" transform="translate(254.9,76.4) rotate(127.9)"/>
<rect x="-1.9" y="-1.4" width="3.8" height="2.7" rx="1" fill="#fff" transform="translate(249.2,75.5) rotate(123.9)"/>
<rect x="-1.9" y="-1.3" width="3.8" height="2.6" rx="1" fill="#fff" transform="translate(247,70.2) rotate(127.9)"/>
<rect x="-1.9" y="-1.3" width="3.8" height="2.6" rx="1" fill="#fff" transform="translate(251.1,82.3) rotate(119)"/>
<rect x="-1.9" y="-1.4" width="3.8" height="2.7" rx="1" fill="#fff" transform="translate(245.6,81.8) rotate(118.2)"/>
<rect x="-1.9" y="-1.3" width="3.8" height="2.6" rx="1" fill="#fff" transform="translate(242.4,77.4) rotate(119)"/>
<path d="M50.4,26.3 L52.1,27.5 L53.7,28.7 L55.3,29.9 L56.9,31 L58.6,32.1 L60.1,33.2 L61.7,34.3 L63.4,35.6 L65,36.9 L66.5,38.1 L67.9,39.1 L69.2,40.1 L70.2,40.7 L71.4,41.4 L72.4,42.1 L73.8,42.8 L75.2,43.5 L76.7,44.1 L78.3,44.6 L80,45.2 L81.3,45.7 L82.7,46.1 L84.5,46.4 L86.3,46.8 L88.4,47.1 L90.6,47.5 L92.4,47.6 L94.3,47.7 L96.3,47.7 L98.5,47.8 L101.1,48.1 L103.6,48.4 L106.6,49.1 L109.4,49.9 L111.8,50.9 L113.8,51.7 L115.6,52.5 L117.2,53.1 L119.2,53.9 L121.1,54.8 L123,55.7 L124.8,56.5 L126.6,57.4 L128.3,58.2 L130,58.9 L131.7,59.6 L133.3,60.2 L134.8,60.7 L136.5,61.3 L138.1,61.8 L139.6,62.2 L141.1,62.5 L142.6,62.8 L143.9,62.9 L145.5,63 L146.9,62.9 L148.4,62.7 L149.9,62.5 L151.5,62.2 L153.4,61.7 L155.3,61.3 L157.3,60.8 L159.1,60.4 L161,60 L162.8,59.5 L164.7,59 L166.6,58.5 L168.5,58 L170.4,57.4 L172.4,56.9 L174.4,56.3 L179.6,77.7 L177.7,78.1 L175.7,78.5 L173.7,79 L171.7,79.4 L169.7,79.8 L167.6,80.3 L165.5,80.7 L163.4,81.1 L161.2,81.4 L159.3,81.7 L157.3,82.1 L155.1,82.4 L152.7,82.7 L150.3,82.9 L147.7,83 L145.1,83 L142.6,82.9 L139.9,82.6 L137.4,82.2 L135,81.7 L132.5,81 L130.3,80.3 L128.2,79.6 L125.9,78.7 L123.7,77.7 L121.8,76.8 L119.8,75.8 L117.9,74.8 L116.1,73.8 L114.3,72.9 L112.6,72 L110.8,71 L109.1,70.1 L107.1,68.9 L105.3,67.8 L103.8,66.8 L102.5,66 L101.5,65.5 L100.5,65.2 L99.1,64.9 L97.6,64.8 L95.8,64.7 L93.8,64.7 L91.7,64.6 L89.4,64.5 L87.5,64.6 L85.6,64.8 L83.4,64.9 L81.1,65 L78.5,65 L75.8,64.8 L73.6,64.4 L71.2,64 L68.9,63.5 L66.4,62.8 L64.1,62 L61.5,61 L59.1,59.7 L56.7,58.2 L54.8,56.8 L52.9,55.4 L51.2,54.1 L49.7,52.8 L48.2,51.6 L46.6,50.2 L45,48.8 L43.5,47.3 L42,45.9 L40.5,44.5 L39.1,43.1 L37.6,41.7Z" fill="#151515"/>
<circle cx="44" cy="34" r="10.5" fill="#151515"/>
<rect x="-1.6" y="-1.4" width="3.2" height="2.7" rx="1" fill="#fff" transform="translate(38.7,29.6) rotate(39.7)"/>
<rect x="-1.6" y="-1.3" width="3.2" height="2.6" rx="1" fill="#fff" transform="translate(43.9,26.6) rotate(39.7)"/>
<rect x="-1.6" y="-1.4" width="3.2" height="2.7" rx="1" fill="#fff" transform="translate(41.9,32.3) rotate(39.7)"/>
<rect x="-1.6" y="-1.3" width="3.2" height="2.6" rx="1" fill="#fff" transform="translate(36.7,35.2) rotate(39.7)"/>
<rect x="-1.6" y="-1.3" width="3.2" height="2.6" rx="1" fill="#fff" transform="translate(47.1,29.3) rotate(39.7)"/>
<rect x="-1.6" y="-1.4" width="3.2" height="2.7" rx="1" fill="#fff" transform="translate(45.2,35) rotate(39.8)"/>
<rect x="-1.6" y="-1.3" width="3.2" height="2.6" rx="1" fill="#fff" transform="translate(40,37.9) rotate(39.7)"/>
<rect x="-1.6" y="-1.3" width="3.2" height="2.6" rx="1" fill="#fff" transform="translate(50.5,31.8) rotate(39.8)"/>
<rect x="-1.6" y="-1.4" width="3.2" height="2.7" rx="1" fill="#fff" transform="translate(48.4,37.6) rotate(39.7)"/>
<rect x="-1.6" y="-1.3" width="3.2" height="2.6" rx="1" fill="#fff" transform="translate(43,40.8) rotate(39.8)"/>
<rect x="-1.6" y="-1.3" width="3.2" height="2.6" rx="1" fill="#fff" transform="translate(53.9,34.2) rotate(39.5)"/>
<rect x="-1.6" y="-1.4" width="3.2" height="2.7" rx="1" fill="#fff" transform="translate(51.6,40.3) rotate(39.1)"/>
<rect x="-1.6" y="-1.3" width="3.2" height="2.6" rx="1" fill="#fff" transform="translate(46.1,43.7) rotate(39.5)"/>
<rect x="-1.6" y="-1.3" width="3.2" height="2.6" rx="1" fill="#fff" transform="translate(57.3,36.6) rotate(38.7)"/>
<rect x="-1.6" y="-1.4" width="3.2" height="2.7" rx="1" fill="#fff" transform="translate(54.9,42.9) rotate(37.9)"/>
<rect x="-1.6" y="-1.3" width="3.2" height="2.6" rx="1" fill="#fff" transform="translate(49.2,46.7) rotate(38.7)"/>
<rect x="-1.6" y="-1.3" width="3.2" height="2.6" rx="1" fill="#fff" transform="translate(60.7,39.1) rotate(38.6)"/>
<rect x="-1.6" y="-1.4" width="3.2" height="2.7" rx="1" fill="#fff" transform="translate(58.2,45.5) rotate(38.8)"/>
<rect x="-1.6" y="-1.3" width="3.2" height="2.6" rx="1" fill="#fff" transform="translate(52.4,49.4) rotate(38.6)"/>
<rect x="-1.6" y="-1.3" width="3.2" height="2.6" rx="1" fill="#fff" transform="translate(63.9,41.6) rotate(37.9)"/>
<rect x="-1.6" y="-1.4" width="3.2" height="2.7" rx="1" fill="#fff" transform="translate(61.5,48.1) rotate(36.5)"/>
<rect x="-1.6" y="-1.3" width="3.2" height="2.6" rx="1" fill="#fff" transform="translate(55.8,52.1) rotate(37.9)"/>
<rect x="-1.6" y="-1.3" width="3.2" height="2.6" rx="1" fill="#fff" transform="translate(66.9,43.8) rotate(33.3)"/>
<rect x="-1.6" y="-1.4" width="3.2" height="2.7" rx="1" fill="#fff" transform="translate(65,50.4) rotate(30.3)"/>
<rect x="-1.6" y="-1.3" width="3.2" height="2.6" rx="1" fill="#fff" transform="translate(59.6,54.9) rotate(33.3)"/>
<rect x="-1.6" y="-1.3" width="3.2" height="2.6" rx="1" fill="#fff" transform="translate(69.7,45.5) rotate(25.4)"/>
<rect x="-1.6" y="-1.4" width="3.2" height="2.7" rx="1" fill="#fff" transform="translate(68.8,52.3) rotate(22.8)"/>
<rect x="-1.6" y="-1.3" width="3.2" height="2.6" rx="1" fill="#fff" transform="translate(64.1,57.3) rotate(25.4)"/>
<rect x="-1.6" y="-1.3" width="3.2" height="2.6" rx="1" fill="#fff" transform="translate(72.8,47.2) rotate(19.3)"/>
<rect x="-1.6" y="-1.4" width="3.2" height="2.7" rx="1" fill="#fff" transform="translate(72.7,53.7) rotate(16.3)"/>
<rect x="-1.6" y="-1.3" width="3.2" height="2.6" rx="1" fill="#fff" transform="translate(68.7,58.9) rotate(19.3)"/>
<rect x="-1.6" y="-1.3" width="3.2" height="2.6" rx="1" fill="#fff" transform="translate(76.2,48.6) rotate(14.7)"/>
<rect x="-1.6" y="-1.4" width="3.2" height="2.7" rx="1" fill="#fff" transform="translate(76.8,54.7) rotate(12.6)"/>
<rect x="-1.6" y="-1.3" width="3.2" height="2.6" rx="1" fill="#fff" transform="translate(73.3,59.9) rotate(14.7)"/>
<rect x="-1.6" y="-1.3" width="3.2" height="2.6" rx="1" fill="#fff" transform="translate(79.8,49.7) rotate(9.4)"/>
<rect x="-1.6" y="-1.4" width="3.2" height="2.7" rx="1" fill="#fff" transform="translate(80.9,55.5) rotate(6.8)"/>
<rect x="-1.6" y="-1.3" width="3.2" height="2.6" rx="1" fill="#fff" transform="translate(78,60.6) rotate(9.4)"/>
<rect x="-1.6" y="-1.3" width="3.2" height="2.6" rx="1" fill="#fff" transform="translate(83.4,50.7) rotate(3.9)"/>
<rect x="-1.6" y="-1.4" width="3.2" height="2.7" rx="1" fill="#fff" transform="translate(85.1,55.7) rotate(2.5)"/>
<rect x="-1.6" y="-1.3" width="3.2" height="2.6" rx="1" fill="#fff" transform="translate(82.7,60.6) rotate(3.9)"/>
<rect x="-1.6" y="-1.3" width="3.2" height="2.6" rx="1" fill="#fff" transform="translate(87.4,51.4) rotate(2.6)"/>
<rect x="-1.6" y="-1.4" width="3.2" height="2.7" rx="1" fill="#fff" transform="translate(89.3,56) rotate(4.2)"/>
<rect x="-1.6" y="-1.3" width="3.2" height="2.6" rx="1" fill="#fff" transform="translate(87,60.3) rotate(2.6)"/>
<rect x="-1.6" y="-1.3" width="3.2" height="2.6" rx="1" fill="#fff" transform="translate(91.6,52) rotate(3)"/>
<rect x="-1.6" y="-1.4" width="3.2" height="2.7" rx="1" fill="#fff" transform="translate(93.5,56.2) rotate(1.5)"/>
<rect x="-1.6" y="-1.3" width="3.2" height="2.6" rx="1" fill="#fff" transform="translate(91.2,60.2) rotate(3)"/>
<rect x="-1.6" y="-1.3" width="3.2" height="2.6" rx="1" fill="#fff" transform="translate(95.7,52.1) rotate(1.6)"/>
<rect x="-1.6" y="-1.4" width="3.2" height="2.7" rx="1" fill="#fff" transform="translate(97.7,56.3) rotate(3.2)"/>
<rect x="-1.6" y="-1.3" width="3.2" height="2.6" rx="1" fill="#fff" transform="translate(95.5,60.3) rotate(1.6)"/>
<rect x="-1.6" y="-1.3" width="3.2" height="2.6" rx="1" fill="#fff" transform="translate(100.2,52.4) rotate(5.4)"/>
<rect x="-1.6" y="-1.4" width="3.2" height="2.7" rx="1" fill="#fff" transform="translate(101.9,56.8) rotate(10.5)"/>
<rect x="-1.6" y="-1.3" width="3.2" height="2.6" rx="1" fill="#fff" transform="translate(99.4,60.5) rotate(5.4)"/>
<rect x="-1.6" y="-1.3" width="3.2" height="2.6" rx="1" fill="#fff" transform="translate(105.2,53.3) rotate(17.2)"/>
<rect x="-1.6" y="-1.4" width="3.2" height="2.7" rx="1" fill="#fff" transform="translate(105.9,58) rotate(22.9)"/>
<rect x="-1.6" y="-1.3" width="3.2" height="2.6" rx="1" fill="#fff" transform="translate(102.7,61.2) rotate(17.2)"/>
<rect x="-1.6" y="-1.3" width="3.2" height="2.6" rx="1" fill="#fff" transform="translate(109.8,54.8) rotate(26.7)"/>
<rect x="-1.6" y="-1.4" width="3.2" height="2.7" rx="1" fill="#fff" transform="translate(109.7,59.8) rotate(28)"/>
<rect x="-1.6" y="-1.3" width="3.2" height="2.6" rx="1" fill="#fff" transform="translate(105.8,62.9) rotate(26.7)"/>
<rect x="-2.2" y="-4.2" width="4.4" height="8.5" rx="1.6" fill="#fff" transform="translate(110,63.7) rotate(27.5)"/>
<rect x="-1.1" y="-1.5" width="2.2" height="3" rx="1" fill="#fff" transform="translate(116.6,58) rotate(25.3)"/>
<rect x="-2.2" y="-4.2" width="4.4" height="8.5" rx="1.6" fill="#fff" transform="translate(116.2,67.1) rotate(26.6)"/>
<rect x="-1.1" y="-1.5" width="2.2" height="3" rx="1" fill="#fff" transform="translate(123.2,60.8) rotate(26.7)"/>
<rect x="-2.2" y="-4.2" width="4.4" height="8.5" rx="1.6" fill="#fff" transform="translate(122.4,70.4) rotate(25.9)"/>
<rect x="-1.1" y="-1.5" width="2.2" height="3" rx="1" fill="#fff" transform="translate(129.3,63.6) rotate(24)"/>
<rect x="-2.2" y="-4.2" width="4.4" height="8.5" rx="1.6" fill="#fff" transform="translate(129.1,73.5) rotate(20.4)"/>
<rect x="-1.1" y="-1.5" width="2.2" height="3" rx="1" fill="#fff" transform="translate(135.4,65.7) rotate(18)"/>
<rect x="-2.2" y="-4.2" width="4.4" height="8.5" rx="1.6" fill="#fff" transform="translate(136.2,75.8) rotate(14.3)"/>
<rect x="-1.1" y="-1.5" width="2.2" height="3" rx="1" fill="#fff" transform="translate(141.4,67.1) rotate(9.3)"/>
<rect x="-2.2" y="-4.2" width="4.4" height="8.5" rx="1.6" fill="#fff" transform="translate(143.8,76.9) rotate(3.9)"/>
<rect x="-1.1" y="-1.5" width="2.2" height="3" rx="1" fill="#fff" transform="translate(147.2,67.5) rotate(-2.5)"/>
<rect x="-2.2" y="-4.2" width="4.4" height="8.5" rx="1.6" fill="#fff" transform="translate(151.6,76.8) rotate(-7.7)"/>
<rect x="-1.1" y="-1.5" width="2.2" height="3" rx="1" fill="#fff" transform="translate(153.4,66.5) rotate(-10.5)"/>
<rect x="-2.2" y="-4.2" width="4.4" height="8.5" rx="1.6" fill="#fff" transform="translate(158.8,75.7) rotate(-11.1)"/>
<rect x="-1.1" y="-1.5" width="2.2" height="3" rx="1" fill="#fff" transform="translate(160.1,64.9) rotate(-11.7)"/>
<rect x="-2.2" y="-4.2" width="4.4" height="8.5" rx="1.6" fill="#fff" transform="translate(165.8,74.5) rotate(-13)"/>
<rect x="-1.1" y="-1.5" width="2.2" height="3" rx="1" fill="#fff" transform="translate(166.7,63.2) rotate(-13.5)"/>
<rect x="-2.2" y="-4.2" width="4.4" height="8.5" rx="1.6" fill="#fff" transform="translate(172.8,73) rotate(-14)"/>
<rect x="-1.1" y="-1.5" width="2.2" height="3" rx="1" fill="#fff" transform="translate(173.4,61.4) rotate(-14)"/>
<path d="M188.5,48.6 L190.1,49 L192.1,49.5 L194.2,50 L196.4,50.5 L198.5,51.1 L200.9,51.7 L203.1,52.3 L205.7,53.1 L208.5,54.1 L211.5,55.5 L213.6,56.8 L215.7,58.2 L217.5,59.6 L219,60.8 L220.4,61.9 L221.6,62.8 L222.5,63.6 L223.5,64.1 L224.9,64.3 L226.5,64.5 L228.3,64.5 L229.9,64.4 L231.6,64.3 L233.3,64.1 L235.1,63.8 L236.8,63.5 L238.3,63.1 L239.6,62.7 L241,62.1 L242.5,61.3 L244.1,60.5 L245.8,59.5 L247.6,58.4 L249.6,57.3 L251.6,56.2 L253.4,55.2 L255.1,54.2 L256.9,53.1 L258.7,52.1 L260.4,51 L262.2,50 L264,49 L272,65 L270.1,65.8 L268.2,66.6 L266.3,67.4 L264.5,68.2 L262.6,69 L260.7,69.8 L258.8,70.6 L257.2,71.4 L255.6,72.3 L253.9,73.3 L252,74.4 L250,75.5 L247.9,76.6 L245.5,77.6 L242.9,78.5 L240.5,79.2 L238.2,79.7 L236.1,80.2 L233.7,80.6 L231.3,80.9 L228.8,81.1 L226.5,81.2 L224,81.2 L221.4,81 L218.3,80.8 L215.3,80.4 L212.7,79.8 L210.4,79.3 L208.2,78.7 L206.3,78.3 L204.7,78.1 L203,77.9 L202,78.1 L200.9,78.2 L199.4,78.3 L197.6,78.4 L195.9,78.5 L193.9,78.7 L192.1,78.9 L190.1,79.1 L187.9,79.3 L185.5,79.4Z" fill="#151515"/>
<rect x="-2.1" y="-4.5" width="4.3" height="9" rx="1.6" fill="#fff" transform="translate(190.5,56.3) rotate(3.9)"/>
<rect x="-2.1" y="-4.5" width="4.3" height="9" rx="1.6" fill="#fff" transform="translate(189.4,72.2) rotate(3.9)"/>
<rect x="-2.1" y="-4.5" width="4.3" height="9" rx="1.6" fill="#fff" transform="translate(197.2,57.3) rotate(5.5)"/>
<rect x="-2.1" y="-4.5" width="4.3" height="9" rx="1.6" fill="#fff" transform="translate(195.8,72.2) rotate(5.5)"/>
<rect x="-2.1" y="-4.5" width="4.3" height="9" rx="1.6" fill="#fff" transform="translate(204.2,58.8) rotate(10.7)"/>
<rect x="-2.1" y="-4.5" width="4.3" height="9" rx="1.6" fill="#fff" transform="translate(201.6,72.4) rotate(10.7)"/>
<rect x="-2.1" y="-4.5" width="4.3" height="9" rx="1.6" fill="#fff" transform="translate(211.5,61.6) rotate(22.6)"/>
<rect x="-2.1" y="-4.5" width="4.3" height="9" rx="1.6" fill="#fff" transform="translate(206.7,73.2) rotate(22.6)"/>
<rect x="-1.2" y="-1.5" width="2.4" height="3" rx="1" fill="#fff" transform="translate(217.1,65.6) rotate(24.7)"/>
<rect x="-1.2" y="-1.5" width="2.4" height="3" rx="1" fill="#fff" transform="translate(215.3,75.8) rotate(21.9)"/>
<rect x="-1.2" y="-1.5" width="2.4" height="3" rx="1" fill="#fff" transform="translate(220.8,67.6) rotate(17)"/>
<rect x="-1.2" y="-1.5" width="2.4" height="3" rx="1" fill="#fff" transform="translate(221,76.9) rotate(10.1)"/>
<rect x="-1.2" y="-1.5" width="2.4" height="3" rx="1" fill="#fff" transform="translate(224.6,68.5) rotate(5.1)"/>
<rect x="-1.2" y="-1.5" width="2.4" height="3" rx="1" fill="#fff" transform="translate(226.6,77) rotate(-0.2)"/>
<rect x="-1.2" y="-1.5" width="2.4" height="3" rx="1" fill="#fff" transform="translate(228.8,68.6) rotate(-3.3)"/>
<rect x="-1.2" y="-1.5" width="2.4" height="3" rx="1" fill="#fff" transform="translate(231.8,76.7) rotate(-6.1)"/>
<rect x="-1.2" y="-1.5" width="2.4" height="3" rx="1" fill="#fff" transform="translate(233.2,68.3) rotate(-8.7)"/>
<rect x="-1.2" y="-1.5" width="2.4" height="3" rx="1" fill="#fff" transform="translate(236.9,75.9) rotate(-11.1)"/>
<rect x="-1.2" y="-1.5" width="2.4" height="3" rx="1" fill="#fff" transform="translate(237.5,67.5) rotate(-13.5)"/>
<rect x="-1.2" y="-1.5" width="2.4" height="3" rx="1" fill="#fff" transform="translate(241.9,74.6) rotate(-16.6)"/>
<rect x="-1.2" y="-1.5" width="2.4" height="3" rx="1" fill="#fff" transform="translate(241.5,66.3) rotate(-23.5)"/>
<rect x="-1.2" y="-1.5" width="2.4" height="3" rx="1" fill="#fff" transform="translate(247,72.5) rotate(-26.8)"/>
<rect x="-1.2" y="-1.5" width="2.4" height="3" rx="1" fill="#fff" transform="translate(245.4,64.3) rotate(-29)"/>
<rect x="-1.2" y="-1.5" width="2.4" height="3" rx="1" fill="#fff" transform="translate(251.4,70.1) rotate(-30.2)"/>
<rect x="-1.2" y="-1.5" width="2.4" height="3" rx="1" fill="#fff" transform="translate(249.5,62) rotate(-30)"/>
<rect x="-1.2" y="-1.5" width="2.4" height="3" rx="1" fill="#fff" transform="translate(255.5,67.8) rotate(-28.5)"/>
<rect x="-1.2" y="-1.5" width="2.4" height="3" rx="1" fill="#fff" transform="translate(253.9,59.5) rotate(-26.6)"/>
<rect x="-1.2" y="-1.5" width="2.4" height="3" rx="1" fill="#fff" transform="translate(259.7,65.7) rotate(-26.6)"/>
<rect x="-1.2" y="-1.5" width="2.4" height="3" rx="1" fill="#fff" transform="translate(258.1,57.2) rotate(-26.6)"/>
<rect x="-1.2" y="-1.5" width="2.4" height="3" rx="1" fill="#fff" transform="translate(264,63.7) rotate(-26.6)"/>
<rect x="-1.2" y="-1.5" width="2.4" height="3" rx="1" fill="#fff" transform="translate(262.4,54.9) rotate(-26.6)"/>
<rect x="-1.2" y="-1.5" width="2.4" height="3" rx="1" fill="#fff" transform="translate(268.4,61.7) rotate(-26.6)"/>
<path d="M113,1.5 C111.7,2.1 110.1,3.9 110,6 C109.9,8.1 111,11.2 112.3,14 C113.6,16.8 115.8,20 117.8,23 C119.8,26 122.3,29 124.3,32 C126.3,35 128.4,38.2 129.8,41 C131.2,43.8 132,46.2 132.8,49 C133.6,51.8 134.4,55.3 134.8,57.8 C135.2,60.3 129.6,63 135.5,64 C141.4,65 166,65.3 170,64 C174,62.7 162.2,58.5 159.3,56 C156.4,53.5 154.4,51.9 152.3,49 C150.2,46.1 148.6,42.3 147,38.5 C145.4,34.7 144.4,29.8 142.7,26.3 C140.9,22.8 139.3,20.1 136.5,17.5 C133.7,14.9 129.1,13 126,10.5 C122.9,8 120.2,4 118,2.5 C115.8,1 114.3,0.9 113,1.5Z" fill="#151515"/>
<path d="M173,-2 C171.2,0.4 173.8,8 172.5,12.5 C171.2,17 167.4,20.8 165.5,25 C163.6,29.2 161.9,33.3 161,37.5 C160.1,41.7 160.3,46.6 160,50 C159.7,53.4 159.3,55.7 159,58 C158.7,60.3 154.8,63 158,64 C161.2,65 175,66.3 178,64 C181,61.7 175.9,54.4 176.2,50 C176.6,45.6 179,41.7 180,37.5 C181,33.3 181.9,29.2 182.5,25 C183.1,20.8 183.6,17 183.8,12.5 C183.9,8 185.3,0.4 183.5,-2 C181.7,-4.4 174.8,-4.4 173,-2Z" fill="#151515"/>
<path d="M245,15 C243.4,15.7 243,17.5 241.5,19.5 C240,21.5 238.1,24.7 236,27 C233.9,29.3 232,31.7 229,33.5 C226,35.3 221.1,36.4 217.8,37.8 C214.5,39.2 211.3,40.2 209,42 C206.7,43.8 205.2,46.2 204,48.5 C202.8,50.8 201.8,53.6 202,56 C202.2,58.4 201.7,61.4 205,63 C208.3,64.6 219.6,65.8 222,65.5 C224.4,65.2 219.6,62.6 219.5,61 C219.4,59.4 219.6,57.8 221.3,55.8 C223.1,53.8 227.1,51.4 230,48.8 C232.9,46.2 236.5,42.9 238.8,40 C241.1,37.1 241.9,34.6 244,31.3 C246.1,28 250.3,22.6 251.5,20 C252.7,17.4 252.1,16.3 251,15.5 C249.9,14.7 246.6,14.3 245,15Z" fill="#151515"/>
<path d="M113.5,5.5 C113.2,6.9 113.8,10.1 115,13 C116.2,15.9 118.5,19.8 120.5,23 C122.5,26.2 125.1,29 127,32 C128.9,35 130.7,38.3 132,41 C133.3,43.7 134.1,46.2 134.8,48 C135.5,49.8 135.4,51.2 136,52 C136.6,52.8 137.7,53.2 138.5,52.5 C139.3,51.8 140.9,50.6 141,48 C141.1,45.4 140.1,40.7 139,37 C137.9,33.3 136.3,29.7 134.5,26 C132.7,22.3 130.2,18.2 128,15 C125.8,11.8 122.9,8.8 121,7 C119.1,5.2 117.8,4.8 116.5,4.5 C115.2,4.2 113.8,4.1 113.5,5.5Z" fill="#fff"/>
<path d="M175,-1 C173.8,1.2 175.2,8.2 174,12.5 C172.8,16.8 169.4,20.8 167.5,25 C165.6,29.2 163.7,33.3 162.8,37.5 C161.9,41.7 162,47.1 162,50 C162,52.9 162.4,54.3 163,55 C163.6,55.7 164.8,54.8 165.5,54 C166.2,53.2 166.3,52.8 167.5,50 C168.7,47.2 170.8,41.7 172.5,37.5 C174.2,33.3 176,29.2 177.5,25 C179,20.8 180.6,16.8 181.2,12.5 C181.9,8.2 182.5,1.2 181.5,-1 C180.5,-3.2 176.2,-3.2 175,-1Z" fill="#fff"/>
<path d="M244.5,19.5 C242.8,20.8 239.4,25.5 237,28 C234.6,30.5 232.2,32.7 230,34.5 C227.8,36.3 226.8,37.2 224,38.6 C221.2,40 215.8,41.2 213,42.6 C210.2,44 208.3,45.6 207,47 C205.7,48.4 205.4,49.7 205.2,51 C205,52.3 205.2,54.5 206,55 C206.8,55.5 207,55.2 210,54 C213,52.8 220,50 224,48 C228,46 231,44.7 234,42 C237,39.3 239.8,35 242,32 C244.2,29 246.1,26 247,24 C247.9,22 247.9,20.8 247.5,20 C247.1,19.2 246.2,18.2 244.5,19.5Z" fill="#fff"/>
<g stroke="#1a1a1a" stroke-width="1.8" fill="none"><line x1="41" y1="129" x2="76" y2="75"/><line x1="178" y1="100" x2="311" y2="50"/><line x1="198" y1="2" x2="182" y2="58"/><line x1="238" y1="108.5" x2="280.5" y2="116.5"/><line x1="207" y1="185" x2="230" y2="204"/><line x1="207" y1="206" x2="230" y2="205"/><line x1="207" y1="229" x2="230" y2="213"/><line x1="50" y1="272" x2="127" y2="245"/><line x1="317" y1="0" x2="317" y2="4"/></g>
<circle cx="418.7" cy="97.5" r="1.3" fill="#666"/>
<ellipse cx="482.5" cy="256.5" rx="47.2" ry="45.8" fill="none" stroke="#151515" stroke-width="2.6"/>
<path d="M488.3,211 L487.5,178 A7.0,7.0 0 0 0 473.5,178.3 L474.3,211.3" fill="#fff" stroke="#151515" stroke-width="3"/>
<line x1="482.1" y1="247.1" x2="479.9" y2="151.6" stroke="#151515" stroke-width="2.5" stroke-dasharray="7 3"/>
<path d="M524,238.5 L552.2,221.3 A7.0,7.0 0 0 0 544.9,209.4 L516.7,226.5" fill="#fff" stroke="#151515" stroke-width="3"/>
<line x1="489.6" y1="251.2" x2="571.2" y2="201.6" stroke="#151515" stroke-width="2.5" stroke-dasharray="7 3"/>
<path d="M518.1,283 L547.1,298.7 A7.0,7.0 0 0 0 553.7,286.4 L524.7,270.7" fill="#fff" stroke="#151515" stroke-width="3"/>
<line x1="489.8" y1="259.7" x2="573.7" y2="305.2" stroke="#151515" stroke-width="2.5" stroke-dasharray="7 3"/>
<path d="M476.6,300.3 L477.6,333.3 A7.0,7.0 0 0 0 491.6,332.9 L490.6,299.9" fill="#fff" stroke="#151515" stroke-width="3"/>
<line x1="482.6" y1="264.1" x2="485.4" y2="359.6" stroke="#151515" stroke-width="2.5" stroke-dasharray="7 3"/>
<path d="M440.8,273.1 L412.7,290.5 A7.0,7.0 0 0 0 420.1,302.4 L448.2,285" fill="#fff" stroke="#151515" stroke-width="3"/>
<line x1="475.1" y1="260.1" x2="393.9" y2="310.4" stroke="#151515" stroke-width="2.5" stroke-dasharray="7 3"/>
<path d="M446.1,228.8 L416.8,213.6 A7.0,7.0 0 0 0 410.3,226 L439.6,241.3" fill="#fff" stroke="#151515" stroke-width="3"/>
<line x1="474.8" y1="251.7" x2="390.1" y2="207.6" stroke="#151515" stroke-width="2.5" stroke-dasharray="7 3"/>
<circle cx="483" cy="256" r="16.9" fill="none" stroke="#151515" stroke-width="4.3"/>
<circle cx="483" cy="256" r="10.8" fill="#fff"/>
<line x1="483" y1="249" x2="483" y2="263" stroke="#151515" stroke-width="2.2"/>
<line x1="476.9" y1="252.5" x2="489.1" y2="259.5" stroke="#151515" stroke-width="2.2"/>
<line x1="489.1" y1="252.5" x2="476.9" y2="259.5" stroke="#151515" stroke-width="2.2"/>
<circle cx="483" cy="256" r="2.4" fill="#151515"/>
<text transform="translate(330,51.5) scale(0.845,1)" x="0" y="0" font-size="23" textLength="113.6" lengthAdjust="spacing">Кишечная</text>
<text transform="translate(341,75.3) scale(0.845,1)" x="0" y="0" font-size="23" textLength="88.8" lengthAdjust="spacing">полость</text>
<text transform="translate(285,125) scale(0.845,1)" x="0" y="0" font-size="23" textLength="178.7" lengthAdjust="spacing">Наружный слой</text>
<text transform="translate(16,152.5) scale(0.845,1)" x="0" y="0" font-size="23" textLength="116" lengthAdjust="spacing">Щупальце</text>
<text transform="translate(237,207.8) scale(0.845,1)" x="0" y="0" font-size="23" textLength="132.5" lengthAdjust="spacing">Внутренний</text>
<text transform="translate(236,231.8) scale(0.845,1)" x="0" y="0" font-size="23" textLength="133.7" lengthAdjust="spacing">слой клеток</text>
<text transform="translate(22,298.5) scale(0.845,1)" x="0" y="0" font-size="23" textLength="116" lengthAdjust="spacing">Развиваю-</text>
<text transform="translate(41,323.5) scale(0.845,1)" x="0" y="0" font-size="23" textLength="68.6" lengthAdjust="spacing">щаяся</text>
<text transform="translate(396.5,386) scale(0.845,1)" x="0" y="0" font-size="23" textLength="219.5" lengthAdjust="spacing">Лучевая симметрия</text>
<text transform="translate(462,409.2) scale(0.845,1)" x="0" y="0" font-size="23" textLength="68.6" lengthAdjust="spacing">гидры</text>

</svg>
</body></html>
